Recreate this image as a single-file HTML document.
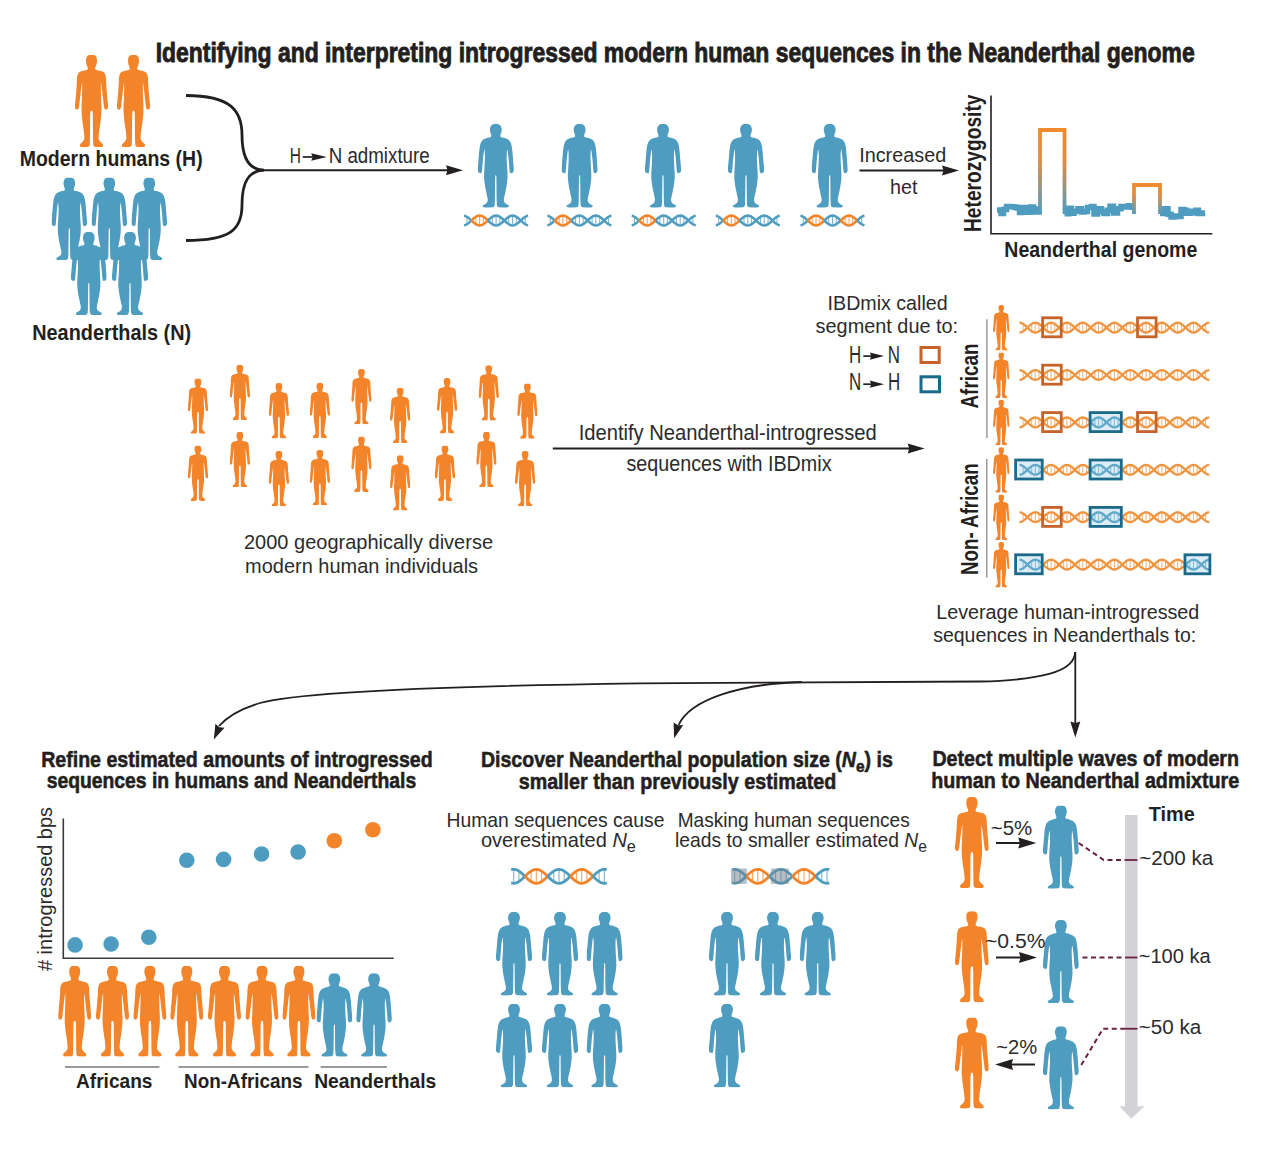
<!DOCTYPE html>
<html><head><meta charset="utf-8"><title>Introgressed modern human sequences in the Neanderthal genome</title>
<style>
html,body{margin:0;padding:0;background:#fff;}
body{width:1280px;height:1168px;overflow:hidden;}
svg{display:block;font-family:"Liberation Sans", sans-serif;}
</style></head><body>
<svg width="1280" height="1168" viewBox="0 0 1280 1168">
<defs><symbol id="hm" viewBox="0 0 100 250" preserveAspectRatio="none"><path d="M50.00,0.00C53.04,0.00 56.65,-0.11 59.13,0.89C61.62,1.89 63.66,3.56 64.90,6.00C66.15,8.44 66.47,12.59 66.59,15.56C66.71,18.52 66.15,21.44 65.62,23.78C65.10,26.11 64.14,27.78 63.46,29.56C62.78,31.33 61.78,32.78 61.54,34.44C61.30,36.11 60.42,38.30 62.02,39.56C63.62,40.81 67.63,41.11 71.15,42.00C74.68,42.89 79.97,43.48 83.17,44.89C86.38,46.30 88.66,47.81 90.38,50.44C92.11,53.07 92.75,55.19 93.51,60.67C94.27,66.15 94.39,75.85 94.95,83.33C95.51,90.81 96.19,98.15 96.88,105.56C97.56,112.96 98.48,122.30 99.04,127.78C99.60,133.26 100.40,135.33 100.24,138.44C100.08,141.56 99.56,144.89 98.08,146.44C96.59,148.00 93.03,148.59 91.35,147.78C89.66,146.96 88.86,144.89 87.98,141.56C87.10,138.22 86.86,133.78 86.06,127.78C85.26,121.78 84.05,112.22 83.17,105.56C82.29,98.89 81.53,92.67 80.77,87.78C80.01,82.89 79.01,75.11 78.61,76.22C78.21,77.33 78.29,87.33 78.37,94.44C78.45,101.56 78.77,110.37 79.09,118.89C79.41,127.41 80.29,137.41 80.29,145.56C80.29,153.70 79.81,160.37 79.09,167.78C78.37,175.19 76.96,183.33 75.96,190.00C74.96,196.67 73.76,201.48 73.08,207.78C72.40,214.07 71.15,223.04 71.88,227.78C72.60,232.52 75.28,233.70 77.40,236.22C79.53,238.74 83.89,240.59 84.62,242.89C85.34,245.19 84.90,248.81 81.73,250.00C78.57,251.19 69.79,250.44 65.62,250.00C61.46,249.56 58.53,249.93 56.73,247.33C54.93,244.74 55.21,243.26 54.81,234.44C54.41,225.63 54.53,207.22 54.33,194.44C54.13,181.67 54.33,164.89 53.61,157.78C52.88,150.67 51.20,151.78 50.00,151.78C48.80,151.78 47.12,150.67 46.39,157.78C45.67,164.89 45.87,181.67 45.67,194.44C45.47,207.22 45.59,225.63 45.19,234.44C44.79,243.26 45.07,244.74 43.27,247.33C41.47,249.93 38.54,249.56 34.38,250.00C30.21,250.44 21.43,251.19 18.27,250.00C15.10,248.81 14.66,245.19 15.38,242.89C16.11,240.59 20.47,238.74 22.60,236.22C24.72,233.70 27.40,232.52 28.12,227.78C28.85,223.04 27.60,214.07 26.92,207.78C26.24,201.48 25.04,196.67 24.04,190.00C23.04,183.33 21.63,175.19 20.91,167.78C20.19,160.37 19.71,153.70 19.71,145.56C19.71,137.41 20.59,127.41 20.91,118.89C21.23,110.37 21.55,101.56 21.63,94.44C21.71,87.33 21.79,77.33 21.39,76.22C20.99,75.11 19.99,82.89 19.23,87.78C18.47,92.67 17.71,98.89 16.83,105.56C15.95,112.22 14.74,121.78 13.94,127.78C13.14,133.78 12.90,138.22 12.02,141.56C11.14,144.89 10.34,146.96 8.65,147.78C6.97,148.59 3.41,148.00 1.92,146.44C0.44,144.89 -0.08,141.56 -0.24,138.44C-0.40,135.33 0.40,133.26 0.96,127.78C1.52,122.30 2.44,112.96 3.12,105.56C3.81,98.15 4.49,90.81 5.05,83.33C5.61,75.85 5.73,66.15 6.49,60.67C7.25,55.19 7.89,53.07 9.62,50.44C11.34,47.81 13.62,46.30 16.83,44.89C20.03,43.48 25.32,42.89 28.85,42.00C32.37,41.11 36.38,40.81 37.98,39.56C39.58,38.30 38.70,36.11 38.46,34.44C38.22,32.78 37.22,31.33 36.54,29.56C35.86,27.78 34.90,26.11 34.38,23.78C33.85,21.44 33.29,18.52 33.41,15.56C33.53,12.59 33.85,8.44 35.10,6.00C36.34,3.56 38.38,1.89 40.87,0.89C43.35,-0.11 46.96,0.00 50.00,0.00Z"/></symbol><symbol id="hn" viewBox="0 0 100 250" preserveAspectRatio="none"><path d="M50.00,0.00C52.56,0.00 55.49,0.05 57.69,0.98C59.90,1.91 61.85,3.54 63.23,5.56C64.62,7.57 65.49,10.57 66.00,13.07C66.51,15.58 66.56,18.03 66.31,20.59C66.05,23.15 65.08,26.14 64.46,28.43C63.85,30.72 62.72,32.52 62.62,34.31C62.51,36.11 62.10,37.96 63.85,39.22C65.59,40.47 69.79,40.63 73.08,41.83C76.36,43.03 80.56,44.17 83.54,46.41C86.51,48.64 89.13,51.69 90.92,55.23C92.72,58.77 93.44,62.96 94.31,67.65C95.18,72.33 95.59,77.45 96.15,83.33C96.72,89.22 97.18,96.41 97.69,102.94C98.21,109.48 98.77,116.99 99.23,122.55C99.69,128.10 100.62,132.57 100.46,136.27C100.31,139.98 99.79,142.92 98.31,144.77C96.82,146.62 93.18,147.93 91.54,147.39C89.90,146.84 89.23,145.64 88.46,141.50C87.69,137.36 87.44,128.98 86.92,122.55C86.41,116.12 85.95,108.93 85.38,102.94C84.82,96.95 84.15,90.96 83.54,86.60C82.92,82.24 82.21,76.25 81.69,76.80C81.18,77.34 80.67,84.42 80.46,89.87C80.26,95.32 80.31,102.94 80.46,109.48C80.62,116.01 81.08,123.09 81.38,129.08C81.69,135.08 82.15,139.43 82.31,145.42C82.46,151.42 82.77,157.95 82.31,165.03C81.85,172.11 80.62,180.83 79.54,187.91C78.46,194.99 77.03,201.09 75.85,207.52C74.67,213.94 72.51,221.68 72.46,226.47C72.41,231.26 73.28,233.33 75.54,236.27C77.79,239.22 84.87,241.72 86.00,244.12C87.13,246.51 85.79,249.56 82.31,250.65C78.82,251.74 69.69,251.31 65.08,250.65C60.46,250.00 56.72,250.11 54.62,246.73C52.51,243.36 52.92,241.29 52.46,230.39C52.00,219.50 52.00,193.46 51.85,181.37C51.69,169.28 51.85,162.42 51.54,157.84C51.23,153.27 50.51,153.92 50.00,153.92C49.49,153.92 48.77,153.27 48.46,157.84C48.15,162.42 48.31,169.28 48.15,181.37C48.00,193.46 48.00,219.50 47.54,230.39C47.08,241.29 47.49,243.36 45.38,246.73C43.28,250.11 39.54,250.00 34.92,250.65C30.31,251.31 21.18,251.74 17.69,250.65C14.21,249.56 12.87,246.51 14.00,244.12C15.13,241.72 22.21,239.22 24.46,236.27C26.72,233.33 27.59,231.26 27.54,226.47C27.49,221.68 25.33,213.94 24.15,207.52C22.97,201.09 21.54,194.99 20.46,187.91C19.38,180.83 18.15,172.11 17.69,165.03C17.23,157.95 17.54,151.42 17.69,145.42C17.85,139.43 18.31,135.08 18.62,129.08C18.92,123.09 19.38,116.01 19.54,109.48C19.69,102.94 19.74,95.32 19.54,89.87C19.33,84.42 18.82,77.34 18.31,76.80C17.79,76.25 17.08,82.24 16.46,86.60C15.85,90.96 15.18,96.95 14.62,102.94C14.05,108.93 13.59,116.12 13.08,122.55C12.56,128.98 12.31,137.36 11.54,141.50C10.77,145.64 10.10,146.84 8.46,147.39C6.82,147.93 3.18,146.62 1.69,144.77C0.21,142.92 -0.31,139.98 -0.46,136.27C-0.62,132.57 0.31,128.10 0.77,122.55C1.23,116.99 1.79,109.48 2.31,102.94C2.82,96.41 3.28,89.22 3.85,83.33C4.41,77.45 4.82,72.33 5.69,67.65C6.56,62.96 7.28,58.77 9.08,55.23C10.87,51.69 13.49,48.64 16.46,46.41C19.44,44.17 23.64,43.03 26.92,41.83C30.21,40.63 34.41,40.47 36.15,39.22C37.90,37.96 37.49,36.11 37.38,34.31C37.28,32.52 36.15,30.72 35.54,28.43C34.92,26.14 33.95,23.15 33.69,20.59C33.44,18.03 33.49,15.58 34.00,13.07C34.51,10.57 35.38,7.57 36.77,5.56C38.15,3.54 40.10,1.91 42.31,0.98C44.51,0.05 47.44,0.00 50.00,0.00Z"/></symbol></defs>
<rect width="1280" height="1168" fill="#fff"/>
<text x="155.70" y="62" font-size="28" font-weight="700" fill="#231f20" textLength="1039.0" lengthAdjust="spacingAndGlyphs" stroke="#231f20" stroke-width="0.9" >Identifying and interpreting introgressed modern human sequences in the Neanderthal genome</text>
<use href="#hm" x="75.00" y="55.00" width="33.00" height="92.00" fill="#f4842a"/>
<use href="#hm" x="117.00" y="55.00" width="33.00" height="92.00" fill="#f4842a"/>
<text x="19.70" y="165.5" font-size="22" font-weight="700" fill="#231f20" textLength="183.0" lengthAdjust="spacingAndGlyphs" >Modern humans (H)</text>
<use href="#hn" x="51.60" y="177.50" width="35.40" height="82.50" fill="#4e9dc0"/>
<use href="#hn" x="91.60" y="177.50" width="35.40" height="82.50" fill="#4e9dc0"/>
<use href="#hn" x="131.50" y="177.50" width="35.50" height="82.50" fill="#4e9dc0"/>
<use href="#hn" x="71.00" y="232.00" width="35.60" height="83.00" fill="#4e9dc0"/>
<use href="#hn" x="112.00" y="232.00" width="36.00" height="83.00" fill="#4e9dc0"/>
<text x="32.20" y="339.5" font-size="22.5" font-weight="700" fill="#231f20" textLength="159.0" lengthAdjust="spacingAndGlyphs" >Neanderthals (N)</text>
<path d="M186,95.5 C230,95.5 242,110 242,135 C242,160 250,170 264,170.2 C250,170.4 242,180 242,205 C242,230 230,240.5 186,240.5" fill="none" stroke="#231f20" stroke-width="2.8"/>
<line x1="262" y1="170.2" x2="450" y2="170.2" stroke="#231f20" stroke-width="2"/>
<polygon points="463.00,170.20 446.00,175.20 447.50,170.20 446.00,165.20" fill="#231f20"/>
<text x="289.80" y="163.3" font-size="21.5" font-weight="400" fill="#2b2b2b" textLength="11.2" lengthAdjust="spacingAndGlyphs" >H</text>
<line x1="302.8" y1="157" x2="315" y2="157" stroke="#231f20" stroke-width="1.7"/>
<polygon points="326.70,157.00 311.20,160.85 312.70,157.00 311.20,153.15" fill="#231f20"/>
<text x="328.70" y="163.3" font-size="21.5" font-weight="400" fill="#2b2b2b" textLength="101.0" lengthAdjust="spacingAndGlyphs" >N admixture</text>
<use href="#hn" x="477.80" y="123.80" width="36.00" height="83.70" fill="#4e9dc0"/>
<g><line x1="466.95" y1="217.70" x2="466.95" y2="223.30" stroke="#4e9dc0" stroke-opacity="0.75" stroke-width="1.05"/><polyline points="464.10,215.68 464.71,215.81 465.32,216.01 465.93,216.26 466.53,216.58 467.14,216.94 467.75,217.36 468.36,217.81 468.97,218.31 469.58,218.83 470.18,219.37 470.79,219.93 471.40,220.50" fill="none" stroke="#4e9dc0" stroke-width="2.5" stroke-linecap="butt"/><polyline points="464.10,225.32 464.71,225.19 465.32,224.99 465.93,224.74 466.53,224.42 467.14,224.06 467.75,223.64 468.36,223.19 468.97,222.69 469.58,222.17 470.18,221.63 470.79,221.07 471.40,220.50" fill="none" stroke="#4e9dc0" stroke-width="2.5" stroke-linecap="butt"/><line x1="475.85" y1="217.70" x2="475.85" y2="223.30" stroke="#f4842a" stroke-opacity="0.75" stroke-width="1.05"/><line x1="479.63" y1="216.47" x2="479.63" y2="224.53" stroke="#f4842a" stroke-opacity="0.75" stroke-width="1.05"/><line x1="483.42" y1="217.70" x2="483.42" y2="223.30" stroke="#f4842a" stroke-opacity="0.75" stroke-width="1.05"/><polyline points="471.40,220.50 472.77,221.77 474.14,222.95 475.52,223.96 476.89,224.74 478.26,225.23 479.63,225.40 481.01,225.23 482.38,224.74 483.75,223.96 485.12,222.95 486.49,221.77 487.87,220.50" fill="none" stroke="#f4842a" stroke-width="2.5" stroke-linecap="butt"/><polyline points="471.40,220.50 472.77,219.23 474.14,218.05 475.52,217.04 476.89,216.26 478.26,215.77 479.63,215.60 481.01,215.77 482.38,216.26 483.75,217.04 485.12,218.05 486.49,219.23 487.87,220.50" fill="none" stroke="#f4842a" stroke-width="2.5" stroke-linecap="butt"/><line x1="492.31" y1="217.70" x2="492.31" y2="223.30" stroke="#4e9dc0" stroke-opacity="0.75" stroke-width="1.05"/><line x1="496.10" y1="216.47" x2="496.10" y2="224.53" stroke="#4e9dc0" stroke-opacity="0.75" stroke-width="1.05"/><line x1="499.89" y1="217.70" x2="499.89" y2="223.30" stroke="#4e9dc0" stroke-opacity="0.75" stroke-width="1.05"/><polyline points="487.87,220.50 489.24,219.23 490.61,218.05 491.98,217.04 493.36,216.26 494.73,215.77 496.10,215.60 497.47,215.77 498.84,216.26 500.22,217.04 501.59,218.05 502.96,219.23 504.33,220.50" fill="none" stroke="#4e9dc0" stroke-width="2.5" stroke-linecap="butt"/><polyline points="487.87,220.50 489.24,221.77 490.61,222.95 491.98,223.96 493.36,224.74 494.73,225.23 496.10,225.40 497.47,225.23 498.84,224.74 500.22,223.96 501.59,222.95 502.96,221.77 504.33,220.50" fill="none" stroke="#4e9dc0" stroke-width="2.5" stroke-linecap="butt"/><line x1="508.78" y1="217.70" x2="508.78" y2="223.30" stroke="#4e9dc0" stroke-opacity="0.75" stroke-width="1.05"/><line x1="512.57" y1="216.47" x2="512.57" y2="224.53" stroke="#4e9dc0" stroke-opacity="0.75" stroke-width="1.05"/><line x1="516.35" y1="217.70" x2="516.35" y2="223.30" stroke="#4e9dc0" stroke-opacity="0.75" stroke-width="1.05"/><polyline points="504.33,220.50 505.71,221.77 507.08,222.95 508.45,223.96 509.82,224.74 511.19,225.23 512.57,225.40 513.94,225.23 515.31,224.74 516.68,223.96 518.06,222.95 519.43,221.77 520.80,220.50" fill="none" stroke="#4e9dc0" stroke-width="2.5" stroke-linecap="butt"/><polyline points="504.33,220.50 505.71,219.23 507.08,218.05 508.45,217.04 509.82,216.26 511.19,215.77 512.57,215.60 513.94,215.77 515.31,216.26 516.68,217.04 518.06,218.05 519.43,219.23 520.80,220.50" fill="none" stroke="#4e9dc0" stroke-width="2.5" stroke-linecap="butt"/><line x1="525.25" y1="217.70" x2="525.25" y2="223.30" stroke="#4e9dc0" stroke-opacity="0.75" stroke-width="1.05"/><polyline points="520.80,220.50 521.41,219.93 522.02,219.37 522.62,218.83 523.23,218.31 523.84,217.81 524.45,217.36 525.06,216.94 525.67,216.58 526.28,216.26 526.88,216.01 527.49,215.81 528.10,215.68" fill="none" stroke="#4e9dc0" stroke-width="2.5" stroke-linecap="butt"/><polyline points="520.80,220.50 521.41,221.07 522.02,221.63 522.62,222.17 523.23,222.69 523.84,223.19 524.45,223.64 525.06,224.06 525.67,224.42 526.28,224.74 526.88,224.99 527.49,225.19 528.10,225.32" fill="none" stroke="#4e9dc0" stroke-width="2.5" stroke-linecap="butt"/></g>
<use href="#hn" x="561.60" y="123.80" width="36.00" height="83.70" fill="#4e9dc0"/>
<g><line x1="550.25" y1="217.70" x2="550.25" y2="223.30" stroke="#4e9dc0" stroke-opacity="0.75" stroke-width="1.05"/><polyline points="547.40,215.68 548.01,215.81 548.62,216.01 549.22,216.26 549.83,216.58 550.44,216.94 551.05,217.36 551.66,217.81 552.27,218.31 552.88,218.83 553.48,219.37 554.09,219.93 554.70,220.50" fill="none" stroke="#4e9dc0" stroke-width="2.5" stroke-linecap="butt"/><polyline points="547.40,225.32 548.01,225.19 548.62,224.99 549.22,224.74 549.83,224.42 550.44,224.06 551.05,223.64 551.66,223.19 552.27,222.69 552.88,222.17 553.48,221.63 554.09,221.07 554.70,220.50" fill="none" stroke="#4e9dc0" stroke-width="2.5" stroke-linecap="butt"/><line x1="559.15" y1="217.70" x2="559.15" y2="223.30" stroke="#f4842a" stroke-opacity="0.75" stroke-width="1.05"/><line x1="562.93" y1="216.47" x2="562.93" y2="224.53" stroke="#f4842a" stroke-opacity="0.75" stroke-width="1.05"/><line x1="566.72" y1="217.70" x2="566.72" y2="223.30" stroke="#f4842a" stroke-opacity="0.75" stroke-width="1.05"/><polyline points="554.70,220.50 556.07,221.77 557.44,222.95 558.82,223.96 560.19,224.74 561.56,225.23 562.93,225.40 564.31,225.23 565.68,224.74 567.05,223.96 568.42,222.95 569.79,221.77 571.17,220.50" fill="none" stroke="#f4842a" stroke-width="2.5" stroke-linecap="butt"/><polyline points="554.70,220.50 556.07,219.23 557.44,218.05 558.82,217.04 560.19,216.26 561.56,215.77 562.93,215.60 564.31,215.77 565.68,216.26 567.05,217.04 568.42,218.05 569.79,219.23 571.17,220.50" fill="none" stroke="#f4842a" stroke-width="2.5" stroke-linecap="butt"/><line x1="575.61" y1="217.70" x2="575.61" y2="223.30" stroke="#4e9dc0" stroke-opacity="0.75" stroke-width="1.05"/><line x1="579.40" y1="216.47" x2="579.40" y2="224.53" stroke="#4e9dc0" stroke-opacity="0.75" stroke-width="1.05"/><line x1="583.19" y1="217.70" x2="583.19" y2="223.30" stroke="#4e9dc0" stroke-opacity="0.75" stroke-width="1.05"/><polyline points="571.17,220.50 572.54,219.23 573.91,218.05 575.28,217.04 576.66,216.26 578.03,215.77 579.40,215.60 580.77,215.77 582.14,216.26 583.52,217.04 584.89,218.05 586.26,219.23 587.63,220.50" fill="none" stroke="#4e9dc0" stroke-width="2.5" stroke-linecap="butt"/><polyline points="571.17,220.50 572.54,221.77 573.91,222.95 575.28,223.96 576.66,224.74 578.03,225.23 579.40,225.40 580.77,225.23 582.14,224.74 583.52,223.96 584.89,222.95 586.26,221.77 587.63,220.50" fill="none" stroke="#4e9dc0" stroke-width="2.5" stroke-linecap="butt"/><line x1="592.08" y1="217.70" x2="592.08" y2="223.30" stroke="#4e9dc0" stroke-opacity="0.75" stroke-width="1.05"/><line x1="595.87" y1="216.47" x2="595.87" y2="224.53" stroke="#4e9dc0" stroke-opacity="0.75" stroke-width="1.05"/><line x1="599.65" y1="217.70" x2="599.65" y2="223.30" stroke="#4e9dc0" stroke-opacity="0.75" stroke-width="1.05"/><polyline points="587.63,220.50 589.01,221.77 590.38,222.95 591.75,223.96 593.12,224.74 594.49,225.23 595.87,225.40 597.24,225.23 598.61,224.74 599.98,223.96 601.36,222.95 602.73,221.77 604.10,220.50" fill="none" stroke="#4e9dc0" stroke-width="2.5" stroke-linecap="butt"/><polyline points="587.63,220.50 589.01,219.23 590.38,218.05 591.75,217.04 593.12,216.26 594.49,215.77 595.87,215.60 597.24,215.77 598.61,216.26 599.98,217.04 601.36,218.05 602.73,219.23 604.10,220.50" fill="none" stroke="#4e9dc0" stroke-width="2.5" stroke-linecap="butt"/><line x1="608.55" y1="217.70" x2="608.55" y2="223.30" stroke="#4e9dc0" stroke-opacity="0.75" stroke-width="1.05"/><polyline points="604.10,220.50 604.71,219.93 605.32,219.37 605.92,218.83 606.53,218.31 607.14,217.81 607.75,217.36 608.36,216.94 608.97,216.58 609.58,216.26 610.18,216.01 610.79,215.81 611.40,215.68" fill="none" stroke="#4e9dc0" stroke-width="2.5" stroke-linecap="butt"/><polyline points="604.10,220.50 604.71,221.07 605.32,221.63 605.92,222.17 606.53,222.69 607.14,223.19 607.75,223.64 608.36,224.06 608.97,224.42 609.58,224.74 610.18,224.99 610.79,225.19 611.40,225.32" fill="none" stroke="#4e9dc0" stroke-width="2.5" stroke-linecap="butt"/></g>
<use href="#hn" x="645.00" y="123.80" width="36.00" height="83.70" fill="#4e9dc0"/>
<g><line x1="634.55" y1="217.70" x2="634.55" y2="223.30" stroke="#4e9dc0" stroke-opacity="0.75" stroke-width="1.05"/><polyline points="631.70,215.68 632.31,215.81 632.92,216.01 633.53,216.26 634.13,216.58 634.74,216.94 635.35,217.36 635.96,217.81 636.57,218.31 637.17,218.83 637.78,219.37 638.39,219.93 639.00,220.50" fill="none" stroke="#4e9dc0" stroke-width="2.5" stroke-linecap="butt"/><polyline points="631.70,225.32 632.31,225.19 632.92,224.99 633.53,224.74 634.13,224.42 634.74,224.06 635.35,223.64 635.96,223.19 636.57,222.69 637.17,222.17 637.78,221.63 638.39,221.07 639.00,220.50" fill="none" stroke="#4e9dc0" stroke-width="2.5" stroke-linecap="butt"/><line x1="643.45" y1="217.70" x2="643.45" y2="223.30" stroke="#f4842a" stroke-opacity="0.75" stroke-width="1.05"/><line x1="647.23" y1="216.47" x2="647.23" y2="224.53" stroke="#f4842a" stroke-opacity="0.75" stroke-width="1.05"/><line x1="651.02" y1="217.70" x2="651.02" y2="223.30" stroke="#f4842a" stroke-opacity="0.75" stroke-width="1.05"/><polyline points="639.00,220.50 640.37,221.77 641.74,222.95 643.12,223.96 644.49,224.74 645.86,225.23 647.23,225.40 648.61,225.23 649.98,224.74 651.35,223.96 652.72,222.95 654.09,221.77 655.47,220.50" fill="none" stroke="#f4842a" stroke-width="2.5" stroke-linecap="butt"/><polyline points="639.00,220.50 640.37,219.23 641.74,218.05 643.12,217.04 644.49,216.26 645.86,215.77 647.23,215.60 648.61,215.77 649.98,216.26 651.35,217.04 652.72,218.05 654.09,219.23 655.47,220.50" fill="none" stroke="#f4842a" stroke-width="2.5" stroke-linecap="butt"/><line x1="659.91" y1="217.70" x2="659.91" y2="223.30" stroke="#4e9dc0" stroke-opacity="0.75" stroke-width="1.05"/><line x1="663.70" y1="216.47" x2="663.70" y2="224.53" stroke="#4e9dc0" stroke-opacity="0.75" stroke-width="1.05"/><line x1="667.49" y1="217.70" x2="667.49" y2="223.30" stroke="#4e9dc0" stroke-opacity="0.75" stroke-width="1.05"/><polyline points="655.47,220.50 656.84,219.23 658.21,218.05 659.58,217.04 660.96,216.26 662.33,215.77 663.70,215.60 665.07,215.77 666.44,216.26 667.82,217.04 669.19,218.05 670.56,219.23 671.93,220.50" fill="none" stroke="#4e9dc0" stroke-width="2.5" stroke-linecap="butt"/><polyline points="655.47,220.50 656.84,221.77 658.21,222.95 659.58,223.96 660.96,224.74 662.33,225.23 663.70,225.40 665.07,225.23 666.44,224.74 667.82,223.96 669.19,222.95 670.56,221.77 671.93,220.50" fill="none" stroke="#4e9dc0" stroke-width="2.5" stroke-linecap="butt"/><line x1="676.38" y1="217.70" x2="676.38" y2="223.30" stroke="#4e9dc0" stroke-opacity="0.75" stroke-width="1.05"/><line x1="680.17" y1="216.47" x2="680.17" y2="224.53" stroke="#4e9dc0" stroke-opacity="0.75" stroke-width="1.05"/><line x1="683.95" y1="217.70" x2="683.95" y2="223.30" stroke="#4e9dc0" stroke-opacity="0.75" stroke-width="1.05"/><polyline points="671.93,220.50 673.31,221.77 674.68,222.95 676.05,223.96 677.42,224.74 678.79,225.23 680.17,225.40 681.54,225.23 682.91,224.74 684.28,223.96 685.66,222.95 687.03,221.77 688.40,220.50" fill="none" stroke="#4e9dc0" stroke-width="2.5" stroke-linecap="butt"/><polyline points="671.93,220.50 673.31,219.23 674.68,218.05 676.05,217.04 677.42,216.26 678.79,215.77 680.17,215.60 681.54,215.77 682.91,216.26 684.28,217.04 685.66,218.05 687.03,219.23 688.40,220.50" fill="none" stroke="#4e9dc0" stroke-width="2.5" stroke-linecap="butt"/><line x1="692.85" y1="217.70" x2="692.85" y2="223.30" stroke="#4e9dc0" stroke-opacity="0.75" stroke-width="1.05"/><polyline points="688.40,220.50 689.01,219.93 689.62,219.37 690.23,218.83 690.83,218.31 691.44,217.81 692.05,217.36 692.66,216.94 693.27,216.58 693.88,216.26 694.48,216.01 695.09,215.81 695.70,215.68" fill="none" stroke="#4e9dc0" stroke-width="2.5" stroke-linecap="butt"/><polyline points="688.40,220.50 689.01,221.07 689.62,221.63 690.23,222.17 690.83,222.69 691.44,223.19 692.05,223.64 692.66,224.06 693.27,224.42 693.88,224.74 694.48,224.99 695.09,225.19 695.70,225.32" fill="none" stroke="#4e9dc0" stroke-width="2.5" stroke-linecap="butt"/></g>
<use href="#hn" x="728.00" y="123.80" width="36.00" height="83.70" fill="#4e9dc0"/>
<g><line x1="718.65" y1="217.70" x2="718.65" y2="223.30" stroke="#4e9dc0" stroke-opacity="0.75" stroke-width="1.05"/><polyline points="715.80,215.68 716.41,215.81 717.02,216.01 717.62,216.26 718.23,216.58 718.84,216.94 719.45,217.36 720.06,217.81 720.67,218.31 721.27,218.83 721.88,219.37 722.49,219.93 723.10,220.50" fill="none" stroke="#4e9dc0" stroke-width="2.5" stroke-linecap="butt"/><polyline points="715.80,225.32 716.41,225.19 717.02,224.99 717.62,224.74 718.23,224.42 718.84,224.06 719.45,223.64 720.06,223.19 720.67,222.69 721.27,222.17 721.88,221.63 722.49,221.07 723.10,220.50" fill="none" stroke="#4e9dc0" stroke-width="2.5" stroke-linecap="butt"/><line x1="727.55" y1="217.70" x2="727.55" y2="223.30" stroke="#f4842a" stroke-opacity="0.75" stroke-width="1.05"/><line x1="731.33" y1="216.47" x2="731.33" y2="224.53" stroke="#f4842a" stroke-opacity="0.75" stroke-width="1.05"/><line x1="735.12" y1="217.70" x2="735.12" y2="223.30" stroke="#f4842a" stroke-opacity="0.75" stroke-width="1.05"/><polyline points="723.10,220.50 724.47,221.77 725.84,222.95 727.22,223.96 728.59,224.74 729.96,225.23 731.33,225.40 732.71,225.23 734.08,224.74 735.45,223.96 736.82,222.95 738.19,221.77 739.57,220.50" fill="none" stroke="#f4842a" stroke-width="2.5" stroke-linecap="butt"/><polyline points="723.10,220.50 724.47,219.23 725.84,218.05 727.22,217.04 728.59,216.26 729.96,215.77 731.33,215.60 732.71,215.77 734.08,216.26 735.45,217.04 736.82,218.05 738.19,219.23 739.57,220.50" fill="none" stroke="#f4842a" stroke-width="2.5" stroke-linecap="butt"/><line x1="744.01" y1="217.70" x2="744.01" y2="223.30" stroke="#4e9dc0" stroke-opacity="0.75" stroke-width="1.05"/><line x1="747.80" y1="216.47" x2="747.80" y2="224.53" stroke="#4e9dc0" stroke-opacity="0.75" stroke-width="1.05"/><line x1="751.59" y1="217.70" x2="751.59" y2="223.30" stroke="#4e9dc0" stroke-opacity="0.75" stroke-width="1.05"/><polyline points="739.57,220.50 740.94,219.23 742.31,218.05 743.68,217.04 745.06,216.26 746.43,215.77 747.80,215.60 749.17,215.77 750.54,216.26 751.92,217.04 753.29,218.05 754.66,219.23 756.03,220.50" fill="none" stroke="#4e9dc0" stroke-width="2.5" stroke-linecap="butt"/><polyline points="739.57,220.50 740.94,221.77 742.31,222.95 743.68,223.96 745.06,224.74 746.43,225.23 747.80,225.40 749.17,225.23 750.54,224.74 751.92,223.96 753.29,222.95 754.66,221.77 756.03,220.50" fill="none" stroke="#4e9dc0" stroke-width="2.5" stroke-linecap="butt"/><line x1="760.48" y1="217.70" x2="760.48" y2="223.30" stroke="#4e9dc0" stroke-opacity="0.75" stroke-width="1.05"/><line x1="764.27" y1="216.47" x2="764.27" y2="224.53" stroke="#4e9dc0" stroke-opacity="0.75" stroke-width="1.05"/><line x1="768.05" y1="217.70" x2="768.05" y2="223.30" stroke="#4e9dc0" stroke-opacity="0.75" stroke-width="1.05"/><polyline points="756.03,220.50 757.41,221.77 758.78,222.95 760.15,223.96 761.52,224.74 762.89,225.23 764.27,225.40 765.64,225.23 767.01,224.74 768.38,223.96 769.76,222.95 771.13,221.77 772.50,220.50" fill="none" stroke="#4e9dc0" stroke-width="2.5" stroke-linecap="butt"/><polyline points="756.03,220.50 757.41,219.23 758.78,218.05 760.15,217.04 761.52,216.26 762.89,215.77 764.27,215.60 765.64,215.77 767.01,216.26 768.38,217.04 769.76,218.05 771.13,219.23 772.50,220.50" fill="none" stroke="#4e9dc0" stroke-width="2.5" stroke-linecap="butt"/><line x1="776.95" y1="217.70" x2="776.95" y2="223.30" stroke="#4e9dc0" stroke-opacity="0.75" stroke-width="1.05"/><polyline points="772.50,220.50 773.11,219.93 773.72,219.37 774.33,218.83 774.93,218.31 775.54,217.81 776.15,217.36 776.76,216.94 777.37,216.58 777.97,216.26 778.58,216.01 779.19,215.81 779.80,215.68" fill="none" stroke="#4e9dc0" stroke-width="2.5" stroke-linecap="butt"/><polyline points="772.50,220.50 773.11,221.07 773.72,221.63 774.33,222.17 774.93,222.69 775.54,223.19 776.15,223.64 776.76,224.06 777.37,224.42 777.97,224.74 778.58,224.99 779.19,225.19 779.80,225.32" fill="none" stroke="#4e9dc0" stroke-width="2.5" stroke-linecap="butt"/></g>
<use href="#hn" x="811.70" y="123.80" width="36.00" height="83.70" fill="#4e9dc0"/>
<g><line x1="803.35" y1="217.70" x2="803.35" y2="223.30" stroke="#4e9dc0" stroke-opacity="0.75" stroke-width="1.05"/><polyline points="800.50,215.68 801.11,215.81 801.72,216.01 802.33,216.26 802.93,216.58 803.54,216.94 804.15,217.36 804.76,217.81 805.37,218.31 805.97,218.83 806.58,219.37 807.19,219.93 807.80,220.50" fill="none" stroke="#4e9dc0" stroke-width="2.5" stroke-linecap="butt"/><polyline points="800.50,225.32 801.11,225.19 801.72,224.99 802.33,224.74 802.93,224.42 803.54,224.06 804.15,223.64 804.76,223.19 805.37,222.69 805.97,222.17 806.58,221.63 807.19,221.07 807.80,220.50" fill="none" stroke="#4e9dc0" stroke-width="2.5" stroke-linecap="butt"/><line x1="812.25" y1="217.70" x2="812.25" y2="223.30" stroke="#f4842a" stroke-opacity="0.75" stroke-width="1.05"/><line x1="816.03" y1="216.47" x2="816.03" y2="224.53" stroke="#f4842a" stroke-opacity="0.75" stroke-width="1.05"/><line x1="819.82" y1="217.70" x2="819.82" y2="223.30" stroke="#f4842a" stroke-opacity="0.75" stroke-width="1.05"/><polyline points="807.80,220.50 809.17,221.77 810.54,222.95 811.92,223.96 813.29,224.74 814.66,225.23 816.03,225.40 817.41,225.23 818.78,224.74 820.15,223.96 821.52,222.95 822.89,221.77 824.27,220.50" fill="none" stroke="#f4842a" stroke-width="2.5" stroke-linecap="butt"/><polyline points="807.80,220.50 809.17,219.23 810.54,218.05 811.92,217.04 813.29,216.26 814.66,215.77 816.03,215.60 817.41,215.77 818.78,216.26 820.15,217.04 821.52,218.05 822.89,219.23 824.27,220.50" fill="none" stroke="#f4842a" stroke-width="2.5" stroke-linecap="butt"/><line x1="828.71" y1="217.70" x2="828.71" y2="223.30" stroke="#4e9dc0" stroke-opacity="0.75" stroke-width="1.05"/><line x1="832.50" y1="216.47" x2="832.50" y2="224.53" stroke="#4e9dc0" stroke-opacity="0.75" stroke-width="1.05"/><line x1="836.29" y1="217.70" x2="836.29" y2="223.30" stroke="#4e9dc0" stroke-opacity="0.75" stroke-width="1.05"/><polyline points="824.27,220.50 825.64,219.23 827.01,218.05 828.38,217.04 829.76,216.26 831.13,215.77 832.50,215.60 833.87,215.77 835.24,216.26 836.62,217.04 837.99,218.05 839.36,219.23 840.73,220.50" fill="none" stroke="#4e9dc0" stroke-width="2.5" stroke-linecap="butt"/><polyline points="824.27,220.50 825.64,221.77 827.01,222.95 828.38,223.96 829.76,224.74 831.13,225.23 832.50,225.40 833.87,225.23 835.24,224.74 836.62,223.96 837.99,222.95 839.36,221.77 840.73,220.50" fill="none" stroke="#4e9dc0" stroke-width="2.5" stroke-linecap="butt"/><line x1="845.18" y1="217.70" x2="845.18" y2="223.30" stroke="#f4842a" stroke-opacity="0.75" stroke-width="1.05"/><line x1="848.97" y1="216.47" x2="848.97" y2="224.53" stroke="#f4842a" stroke-opacity="0.75" stroke-width="1.05"/><line x1="852.75" y1="217.70" x2="852.75" y2="223.30" stroke="#f4842a" stroke-opacity="0.75" stroke-width="1.05"/><polyline points="840.73,220.50 842.11,221.77 843.48,222.95 844.85,223.96 846.22,224.74 847.59,225.23 848.97,225.40 850.34,225.23 851.71,224.74 853.08,223.96 854.46,222.95 855.83,221.77 857.20,220.50" fill="none" stroke="#f4842a" stroke-width="2.5" stroke-linecap="butt"/><polyline points="840.73,220.50 842.11,219.23 843.48,218.05 844.85,217.04 846.22,216.26 847.59,215.77 848.97,215.60 850.34,215.77 851.71,216.26 853.08,217.04 854.46,218.05 855.83,219.23 857.20,220.50" fill="none" stroke="#f4842a" stroke-width="2.5" stroke-linecap="butt"/><line x1="861.65" y1="217.70" x2="861.65" y2="223.30" stroke="#4e9dc0" stroke-opacity="0.75" stroke-width="1.05"/><polyline points="857.20,220.50 857.81,219.93 858.42,219.37 859.03,218.83 859.63,218.31 860.24,217.81 860.85,217.36 861.46,216.94 862.07,216.58 862.67,216.26 863.28,216.01 863.89,215.81 864.50,215.68" fill="none" stroke="#4e9dc0" stroke-width="2.5" stroke-linecap="butt"/><polyline points="857.20,220.50 857.81,221.07 858.42,221.63 859.03,222.17 859.63,222.69 860.24,223.19 860.85,223.64 861.46,224.06 862.07,224.42 862.67,224.74 863.28,224.99 863.89,225.19 864.50,225.32" fill="none" stroke="#4e9dc0" stroke-width="2.5" stroke-linecap="butt"/></g>
<text x="859.20" y="162.4" font-size="20" font-weight="400" fill="#2b2b2b" textLength="87.0" lengthAdjust="spacingAndGlyphs" >Increased</text>
<text x="890.00" y="193.7" font-size="20" font-weight="400" fill="#2b2b2b" textLength="27.5" lengthAdjust="spacingAndGlyphs" >het</text>
<line x1="859.5" y1="170.5" x2="945" y2="170.5" stroke="#231f20" stroke-width="2"/>
<polygon points="959.00,170.50 942.00,175.50 943.50,170.50 942.00,165.50" fill="#231f20"/>
<path d="M991,95.5 L991,233.7 L1212.3,233.7" fill="none" stroke="#231f20" stroke-width="1.6"/>
<text x="0.00" y="0" font-size="24" font-weight="700" fill="#231f20" textLength="137.5" lengthAdjust="spacingAndGlyphs" transform="translate(981,232) rotate(-90)" >Heterozygosity</text>
<text x="1004.30" y="257" font-size="22" font-weight="700" fill="#231f20" textLength="193.0" lengthAdjust="spacingAndGlyphs" >Neanderthal genome</text>
<defs><linearGradient id="pk" x1="0" y1="0" x2="0" y2="1"><stop offset="0" stop-color="#f08a2e"/><stop offset="0.35" stop-color="#e48c42"/><stop offset="1" stop-color="#4e9dc0"/></linearGradient></defs>
<polyline points="997.0,209.9 1001.0,209.9 1001.0,213.5 1003.5,213.5 1003.5,209.6 1006.5,209.6 1006.5,206.6 1010.5,206.6 1010.5,206.7 1014.5,206.7 1014.5,207.3 1017.0,207.3 1017.0,208.1 1019.5,208.1 1019.5,212.6 1022.0,212.6 1022.0,207.5 1025.0,207.5 1025.0,209.4 1027.5,209.4 1027.5,212.3 1030.5,212.3 1030.5,207.1 1033.5,207.1 1033.5,209.1 1036.0,209.1 1036.0,212.1 1039.0,212.1 1039.0,211.2 1040.0,211.2" fill="none" stroke="#4e9dc0" stroke-width="5.5"/>
<polyline points="1064.5,213.8 1068.5,213.8 1068.5,208.3 1071.5,208.3 1071.5,213.3 1074.0,213.3 1074.0,211.3 1078.0,211.3 1078.0,208.7 1081.5,208.7 1081.5,212.0 1084.0,212.0 1084.0,211.4 1087.5,211.4 1087.5,207.4 1091.5,207.4 1091.5,206.5 1094.0,206.5 1094.0,214.1 1097.5,214.1 1097.5,208.7 1101.5,208.7 1101.5,211.8 1104.0,211.8 1104.0,213.6 1107.5,213.6 1107.5,210.2 1110.0,210.2 1110.0,206.2 1113.5,206.2 1113.5,213.1 1117.5,213.1 1117.5,208.7 1121.0,208.7 1121.0,206.4 1124.5,206.4 1124.5,207.1 1128.5,207.1 1128.5,205.7 1132.0,205.7 1132.0,207.2 1134.0,207.2" fill="none" stroke="#4e9dc0" stroke-width="5.5"/>
<polyline points="1160.0,213.4 1164.0,213.4 1164.0,208.7 1168.0,208.7 1168.0,214.3 1171.0,214.3 1171.0,216.9 1174.5,216.9 1174.5,215.9 1178.0,215.9 1178.0,216.4 1181.0,216.4 1181.0,209.6 1184.0,209.6 1184.0,210.2 1186.5,210.2 1186.5,213.3 1189.5,213.3 1189.5,211.3 1192.5,211.3 1192.5,213.0 1196.0,213.0 1196.0,210.2 1198.5,210.2 1198.5,213.4 1202.5,213.4 1202.5,212.9 1205.0,212.9" fill="none" stroke="#4e9dc0" stroke-width="5.5"/>
<path d="M1040,214 L1040,130 L1064.5,130 L1064.5,214" fill="none" stroke="url(#pk)" stroke-width="3.8"/>
<path d="M1134,214 L1134,185 L1160,185 L1160,214" fill="none" stroke="url(#pk)" stroke-width="3.8"/>
<use href="#hm" x="187.80" y="378.40" width="20.30" height="55.30" fill="#f4842a"/>
<use href="#hm" x="229.70" y="364.70" width="20.30" height="55.30" fill="#f4842a"/>
<use href="#hm" x="268.75" y="383.10" width="20.30" height="55.30" fill="#f4842a"/>
<use href="#hm" x="309.70" y="382.80" width="20.30" height="55.30" fill="#f4842a"/>
<use href="#hm" x="351.25" y="369.00" width="20.30" height="55.30" fill="#f4842a"/>
<use href="#hm" x="390.00" y="387.80" width="20.30" height="55.30" fill="#f4842a"/>
<use href="#hm" x="436.90" y="378.10" width="20.30" height="55.30" fill="#f4842a"/>
<use href="#hm" x="478.60" y="365.20" width="20.30" height="55.30" fill="#f4842a"/>
<use href="#hm" x="517.20" y="383.40" width="20.30" height="55.30" fill="#f4842a"/>
<use href="#hm" x="187.80" y="445.60" width="20.30" height="55.30" fill="#f4842a"/>
<use href="#hm" x="229.70" y="431.90" width="20.30" height="55.30" fill="#f4842a"/>
<use href="#hm" x="268.75" y="451.00" width="20.30" height="55.30" fill="#f4842a"/>
<use href="#hm" x="309.70" y="450.00" width="20.30" height="55.30" fill="#f4842a"/>
<use href="#hm" x="351.25" y="436.60" width="20.30" height="55.30" fill="#f4842a"/>
<use href="#hm" x="390.00" y="455.30" width="20.30" height="55.30" fill="#f4842a"/>
<use href="#hm" x="434.80" y="445.60" width="20.30" height="55.30" fill="#f4842a"/>
<use href="#hm" x="476.25" y="431.90" width="20.30" height="55.30" fill="#f4842a"/>
<use href="#hm" x="515.00" y="451.00" width="20.30" height="55.30" fill="#f4842a"/>
<text x="244.00" y="549.1" font-size="20.5" font-weight="400" fill="#2b2b2b" textLength="249.0" lengthAdjust="spacingAndGlyphs" >2000 geographically diverse</text>
<text x="245.10" y="572.5" font-size="20.5" font-weight="400" fill="#2b2b2b" textLength="233.0" lengthAdjust="spacingAndGlyphs" >modern human individuals</text>
<text x="578.70" y="439.7" font-size="21.5" font-weight="400" fill="#2b2b2b" textLength="298.0" lengthAdjust="spacingAndGlyphs" >Identify Neanderthal-introgressed</text>
<text x="626.50" y="471" font-size="21.5" font-weight="400" fill="#2b2b2b" textLength="205.0" lengthAdjust="spacingAndGlyphs" >sequences with IBDmix</text>
<line x1="552.8" y1="448.4" x2="910" y2="448.4" stroke="#231f20" stroke-width="2"/>
<polygon points="924.70,448.40 907.70,453.40 909.20,448.40 907.70,443.40" fill="#231f20"/>
<text x="827.60" y="309.7" font-size="20.5" font-weight="400" fill="#2b2b2b" textLength="120.0" lengthAdjust="spacingAndGlyphs" >IBDmix called</text>
<text x="815.60" y="332.7" font-size="20.5" font-weight="400" fill="#2b2b2b" textLength="142.5" lengthAdjust="spacingAndGlyphs" >segment due to:</text>
<text x="849.00" y="362.6" font-size="23.5" font-weight="400" fill="#2b2b2b" textLength="12.2" lengthAdjust="spacingAndGlyphs" >H</text>
<line x1="863.3" y1="356.1" x2="872" y2="356.1" stroke="#231f20" stroke-width="1.7"/>
<polygon points="884.10,356.10 869.80,359.75 871.30,356.10 869.80,352.45" fill="#231f20"/>
<text x="887.80" y="362.6" font-size="23.5" font-weight="400" fill="#2b2b2b" textLength="12.2" lengthAdjust="spacingAndGlyphs" >N</text>
<text x="849.00" y="389.6" font-size="23.5" font-weight="400" fill="#2b2b2b" textLength="12.2" lengthAdjust="spacingAndGlyphs" >N</text>
<line x1="863.3" y1="384.2" x2="872" y2="384.2" stroke="#231f20" stroke-width="1.7"/>
<polygon points="884.10,384.20 869.80,387.85 871.30,384.20 869.80,380.55" fill="#231f20"/>
<text x="888.00" y="389.6" font-size="23.5" font-weight="400" fill="#2b2b2b" textLength="12.2" lengthAdjust="spacingAndGlyphs" >H</text>
<rect x="921" y="347.5" width="18.2" height="15" fill="#fff" stroke="#c6622a" stroke-width="3"/>
<rect x="921" y="376.8" width="18.5" height="15" fill="#fff" stroke="#1b6a8a" stroke-width="3"/>
<line x1="986.9" y1="319.3" x2="986.9" y2="438" stroke="#8a8a8a" stroke-width="1.3"/>
<line x1="986.8" y1="459" x2="986.8" y2="577.6" stroke="#8a8a8a" stroke-width="1.3"/>
<text x="0.00" y="0" font-size="23.5" font-weight="700" fill="#231f20" textLength="65" lengthAdjust="spacingAndGlyphs" transform="translate(977.5,408.5) rotate(-90)" >African</text>
<text x="0.00" y="0" font-size="23.5" font-weight="700" fill="#231f20" textLength="111.6" lengthAdjust="spacingAndGlyphs" transform="translate(978,575) rotate(-90)" >Non- African</text>
<use href="#hm" x="993.00" y="305.00" width="16.50" height="45.50" fill="#f4842a"/>
<g><line x1="1023.14" y1="324.73" x2="1023.14" y2="330.47" stroke="#f1943f" stroke-opacity="0.75" stroke-width="0.97"/><polyline points="1019.50,322.70 1020.16,322.74 1020.82,322.87 1021.48,323.07 1022.14,323.36 1022.80,323.71 1023.45,324.14 1024.11,324.62 1024.77,325.15 1025.43,325.72 1026.09,326.33 1026.75,326.96 1027.41,327.60" fill="none" stroke="#f1943f" stroke-width="2.3" stroke-linecap="butt"/><polyline points="1019.50,332.50 1020.16,332.46 1020.82,332.33 1021.48,332.13 1022.14,331.84 1022.80,331.49 1023.45,331.06 1024.11,330.58 1024.77,330.05 1025.43,329.48 1026.09,328.87 1026.75,328.24 1027.41,327.60" fill="none" stroke="#f1943f" stroke-width="2.3" stroke-linecap="butt"/><line x1="1031.68" y1="324.73" x2="1031.68" y2="330.47" stroke="#f1943f" stroke-opacity="0.75" stroke-width="0.97"/><line x1="1035.32" y1="323.50" x2="1035.32" y2="331.70" stroke="#f1943f" stroke-opacity="0.75" stroke-width="0.97"/><line x1="1038.95" y1="324.73" x2="1038.95" y2="330.47" stroke="#f1943f" stroke-opacity="0.75" stroke-width="0.97"/><polyline points="1027.41,327.60 1028.73,328.87 1030.04,330.05 1031.36,331.06 1032.68,331.84 1034.00,332.33 1035.32,332.50 1036.63,332.33 1037.95,331.84 1039.27,331.06 1040.59,330.05 1041.91,328.87 1043.22,327.60" fill="none" stroke="#f1943f" stroke-width="2.3" stroke-linecap="butt"/><polyline points="1027.41,327.60 1028.73,326.33 1030.04,325.15 1031.36,324.14 1032.68,323.36 1034.00,322.87 1035.32,322.70 1036.63,322.87 1037.95,323.36 1039.27,324.14 1040.59,325.15 1041.91,326.33 1043.22,327.60" fill="none" stroke="#f1943f" stroke-width="2.3" stroke-linecap="butt"/><line x1="1047.50" y1="324.73" x2="1047.50" y2="330.47" stroke="#f1943f" stroke-opacity="0.75" stroke-width="0.97"/><line x1="1051.13" y1="323.50" x2="1051.13" y2="331.70" stroke="#f1943f" stroke-opacity="0.75" stroke-width="0.97"/><line x1="1054.77" y1="324.73" x2="1054.77" y2="330.47" stroke="#f1943f" stroke-opacity="0.75" stroke-width="0.97"/><polyline points="1043.22,327.60 1044.54,326.33 1045.86,325.15 1047.18,324.14 1048.50,323.36 1049.82,322.87 1051.13,322.70 1052.45,322.87 1053.77,323.36 1055.09,324.14 1056.41,325.15 1057.72,326.33 1059.04,327.60" fill="none" stroke="#f1943f" stroke-width="2.3" stroke-linecap="butt"/><polyline points="1043.22,327.60 1044.54,328.87 1045.86,330.05 1047.18,331.06 1048.50,331.84 1049.82,332.33 1051.13,332.50 1052.45,332.33 1053.77,331.84 1055.09,331.06 1056.41,330.05 1057.72,328.87 1059.04,327.60" fill="none" stroke="#f1943f" stroke-width="2.3" stroke-linecap="butt"/><line x1="1063.31" y1="324.73" x2="1063.31" y2="330.47" stroke="#f1943f" stroke-opacity="0.75" stroke-width="0.97"/><line x1="1066.95" y1="323.50" x2="1066.95" y2="331.70" stroke="#f1943f" stroke-opacity="0.75" stroke-width="0.97"/><line x1="1070.59" y1="324.73" x2="1070.59" y2="330.47" stroke="#f1943f" stroke-opacity="0.75" stroke-width="0.97"/><polyline points="1059.04,327.60 1060.36,328.87 1061.68,330.05 1063.00,331.06 1064.31,331.84 1065.63,332.33 1066.95,332.50 1068.27,332.33 1069.59,331.84 1070.90,331.06 1072.22,330.05 1073.54,328.87 1074.86,327.60" fill="none" stroke="#f1943f" stroke-width="2.3" stroke-linecap="butt"/><polyline points="1059.04,327.60 1060.36,326.33 1061.68,325.15 1063.00,324.14 1064.31,323.36 1065.63,322.87 1066.95,322.70 1068.27,322.87 1069.59,323.36 1070.90,324.14 1072.22,325.15 1073.54,326.33 1074.86,327.60" fill="none" stroke="#f1943f" stroke-width="2.3" stroke-linecap="butt"/><line x1="1079.13" y1="324.73" x2="1079.13" y2="330.47" stroke="#f1943f" stroke-opacity="0.75" stroke-width="0.97"/><line x1="1082.77" y1="323.50" x2="1082.77" y2="331.70" stroke="#f1943f" stroke-opacity="0.75" stroke-width="0.97"/><line x1="1086.40" y1="324.73" x2="1086.40" y2="330.47" stroke="#f1943f" stroke-opacity="0.75" stroke-width="0.97"/><polyline points="1074.86,327.60 1076.18,326.33 1077.49,325.15 1078.81,324.14 1080.13,323.36 1081.45,322.87 1082.77,322.70 1084.08,322.87 1085.40,323.36 1086.72,324.14 1088.04,325.15 1089.36,326.33 1090.67,327.60" fill="none" stroke="#f1943f" stroke-width="2.3" stroke-linecap="butt"/><polyline points="1074.86,327.60 1076.18,328.87 1077.49,330.05 1078.81,331.06 1080.13,331.84 1081.45,332.33 1082.77,332.50 1084.08,332.33 1085.40,331.84 1086.72,331.06 1088.04,330.05 1089.36,328.87 1090.67,327.60" fill="none" stroke="#f1943f" stroke-width="2.3" stroke-linecap="butt"/><line x1="1094.95" y1="324.73" x2="1094.95" y2="330.47" stroke="#f1943f" stroke-opacity="0.75" stroke-width="0.97"/><line x1="1098.58" y1="323.50" x2="1098.58" y2="331.70" stroke="#f1943f" stroke-opacity="0.75" stroke-width="0.97"/><line x1="1102.22" y1="324.73" x2="1102.22" y2="330.47" stroke="#f1943f" stroke-opacity="0.75" stroke-width="0.97"/><polyline points="1090.67,327.60 1091.99,328.87 1093.31,330.05 1094.63,331.06 1095.95,331.84 1097.27,332.33 1098.58,332.50 1099.90,332.33 1101.22,331.84 1102.54,331.06 1103.86,330.05 1105.17,328.87 1106.49,327.60" fill="none" stroke="#f1943f" stroke-width="2.3" stroke-linecap="butt"/><polyline points="1090.67,327.60 1091.99,326.33 1093.31,325.15 1094.63,324.14 1095.95,323.36 1097.27,322.87 1098.58,322.70 1099.90,322.87 1101.22,323.36 1102.54,324.14 1103.86,325.15 1105.17,326.33 1106.49,327.60" fill="none" stroke="#f1943f" stroke-width="2.3" stroke-linecap="butt"/><line x1="1110.76" y1="324.73" x2="1110.76" y2="330.47" stroke="#f1943f" stroke-opacity="0.75" stroke-width="0.97"/><line x1="1114.40" y1="323.50" x2="1114.40" y2="331.70" stroke="#f1943f" stroke-opacity="0.75" stroke-width="0.97"/><line x1="1118.04" y1="324.73" x2="1118.04" y2="330.47" stroke="#f1943f" stroke-opacity="0.75" stroke-width="0.97"/><polyline points="1106.49,327.60 1107.81,326.33 1109.13,325.15 1110.45,324.14 1111.76,323.36 1113.08,322.87 1114.40,322.70 1115.72,322.87 1117.04,323.36 1118.35,324.14 1119.67,325.15 1120.99,326.33 1122.31,327.60" fill="none" stroke="#f1943f" stroke-width="2.3" stroke-linecap="butt"/><polyline points="1106.49,327.60 1107.81,328.87 1109.13,330.05 1110.45,331.06 1111.76,331.84 1113.08,332.33 1114.40,332.50 1115.72,332.33 1117.04,331.84 1118.35,331.06 1119.67,330.05 1120.99,328.87 1122.31,327.60" fill="none" stroke="#f1943f" stroke-width="2.3" stroke-linecap="butt"/><line x1="1126.58" y1="324.73" x2="1126.58" y2="330.47" stroke="#f1943f" stroke-opacity="0.75" stroke-width="0.97"/><line x1="1130.22" y1="323.50" x2="1130.22" y2="331.70" stroke="#f1943f" stroke-opacity="0.75" stroke-width="0.97"/><line x1="1133.85" y1="324.73" x2="1133.85" y2="330.47" stroke="#f1943f" stroke-opacity="0.75" stroke-width="0.97"/><polyline points="1122.31,327.60 1123.63,328.87 1124.94,330.05 1126.26,331.06 1127.58,331.84 1128.90,332.33 1130.22,332.50 1131.53,332.33 1132.85,331.84 1134.17,331.06 1135.49,330.05 1136.81,328.87 1138.12,327.60" fill="none" stroke="#f1943f" stroke-width="2.3" stroke-linecap="butt"/><polyline points="1122.31,327.60 1123.63,326.33 1124.94,325.15 1126.26,324.14 1127.58,323.36 1128.90,322.87 1130.22,322.70 1131.53,322.87 1132.85,323.36 1134.17,324.14 1135.49,325.15 1136.81,326.33 1138.12,327.60" fill="none" stroke="#f1943f" stroke-width="2.3" stroke-linecap="butt"/><line x1="1142.40" y1="324.73" x2="1142.40" y2="330.47" stroke="#f1943f" stroke-opacity="0.75" stroke-width="0.97"/><line x1="1146.03" y1="323.50" x2="1146.03" y2="331.70" stroke="#f1943f" stroke-opacity="0.75" stroke-width="0.97"/><line x1="1149.67" y1="324.73" x2="1149.67" y2="330.47" stroke="#f1943f" stroke-opacity="0.75" stroke-width="0.97"/><polyline points="1138.12,327.60 1139.44,326.33 1140.76,325.15 1142.08,324.14 1143.40,323.36 1144.72,322.87 1146.03,322.70 1147.35,322.87 1148.67,323.36 1149.99,324.14 1151.31,325.15 1152.62,326.33 1153.94,327.60" fill="none" stroke="#f1943f" stroke-width="2.3" stroke-linecap="butt"/><polyline points="1138.12,327.60 1139.44,328.87 1140.76,330.05 1142.08,331.06 1143.40,331.84 1144.72,332.33 1146.03,332.50 1147.35,332.33 1148.67,331.84 1149.99,331.06 1151.31,330.05 1152.62,328.87 1153.94,327.60" fill="none" stroke="#f1943f" stroke-width="2.3" stroke-linecap="butt"/><line x1="1158.21" y1="324.73" x2="1158.21" y2="330.47" stroke="#f1943f" stroke-opacity="0.75" stroke-width="0.97"/><line x1="1161.85" y1="323.50" x2="1161.85" y2="331.70" stroke="#f1943f" stroke-opacity="0.75" stroke-width="0.97"/><line x1="1165.49" y1="324.73" x2="1165.49" y2="330.47" stroke="#f1943f" stroke-opacity="0.75" stroke-width="0.97"/><polyline points="1153.94,327.60 1155.26,328.87 1156.58,330.05 1157.90,331.06 1159.21,331.84 1160.53,332.33 1161.85,332.50 1163.17,332.33 1164.49,331.84 1165.80,331.06 1167.12,330.05 1168.44,328.87 1169.76,327.60" fill="none" stroke="#f1943f" stroke-width="2.3" stroke-linecap="butt"/><polyline points="1153.94,327.60 1155.26,326.33 1156.58,325.15 1157.90,324.14 1159.21,323.36 1160.53,322.87 1161.85,322.70 1163.17,322.87 1164.49,323.36 1165.80,324.14 1167.12,325.15 1168.44,326.33 1169.76,327.60" fill="none" stroke="#f1943f" stroke-width="2.3" stroke-linecap="butt"/><line x1="1174.03" y1="324.73" x2="1174.03" y2="330.47" stroke="#f1943f" stroke-opacity="0.75" stroke-width="0.97"/><line x1="1177.67" y1="323.50" x2="1177.67" y2="331.70" stroke="#f1943f" stroke-opacity="0.75" stroke-width="0.97"/><line x1="1181.30" y1="324.73" x2="1181.30" y2="330.47" stroke="#f1943f" stroke-opacity="0.75" stroke-width="0.97"/><polyline points="1169.76,327.60 1171.08,326.33 1172.39,325.15 1173.71,324.14 1175.03,323.36 1176.35,322.87 1177.67,322.70 1178.98,322.87 1180.30,323.36 1181.62,324.14 1182.94,325.15 1184.26,326.33 1185.57,327.60" fill="none" stroke="#f1943f" stroke-width="2.3" stroke-linecap="butt"/><polyline points="1169.76,327.60 1171.08,328.87 1172.39,330.05 1173.71,331.06 1175.03,331.84 1176.35,332.33 1177.67,332.50 1178.98,332.33 1180.30,331.84 1181.62,331.06 1182.94,330.05 1184.26,328.87 1185.57,327.60" fill="none" stroke="#f1943f" stroke-width="2.3" stroke-linecap="butt"/><line x1="1189.85" y1="324.73" x2="1189.85" y2="330.47" stroke="#f1943f" stroke-opacity="0.75" stroke-width="0.97"/><line x1="1193.48" y1="323.50" x2="1193.48" y2="331.70" stroke="#f1943f" stroke-opacity="0.75" stroke-width="0.97"/><line x1="1197.12" y1="324.73" x2="1197.12" y2="330.47" stroke="#f1943f" stroke-opacity="0.75" stroke-width="0.97"/><polyline points="1185.57,327.60 1186.89,328.87 1188.21,330.05 1189.53,331.06 1190.85,331.84 1192.17,332.33 1193.48,332.50 1194.80,332.33 1196.12,331.84 1197.44,331.06 1198.76,330.05 1200.07,328.87 1201.39,327.60" fill="none" stroke="#f1943f" stroke-width="2.3" stroke-linecap="butt"/><polyline points="1185.57,327.60 1186.89,326.33 1188.21,325.15 1189.53,324.14 1190.85,323.36 1192.17,322.87 1193.48,322.70 1194.80,322.87 1196.12,323.36 1197.44,324.14 1198.76,325.15 1200.07,326.33 1201.39,327.60" fill="none" stroke="#f1943f" stroke-width="2.3" stroke-linecap="butt"/><line x1="1205.66" y1="324.73" x2="1205.66" y2="330.47" stroke="#f1943f" stroke-opacity="0.75" stroke-width="0.97"/><polyline points="1201.39,327.60 1202.05,326.96 1202.71,326.33 1203.37,325.72 1204.03,325.15 1204.69,324.62 1205.35,324.14 1206.00,323.71 1206.66,323.36 1207.32,323.07 1207.98,322.87 1208.64,322.74 1209.30,322.70" fill="none" stroke="#f1943f" stroke-width="2.3" stroke-linecap="butt"/><polyline points="1201.39,327.60 1202.05,328.24 1202.71,328.87 1203.37,329.48 1204.03,330.05 1204.69,330.58 1205.35,331.06 1206.00,331.49 1206.66,331.84 1207.32,332.13 1207.98,332.33 1208.64,332.46 1209.30,332.50" fill="none" stroke="#f1943f" stroke-width="2.3" stroke-linecap="butt"/></g>
<rect x="1042.62" y="317.80" width="18.6" height="19" fill="none" stroke="#c6622a" stroke-width="2.8"/>
<rect x="1137.53" y="317.80" width="18.6" height="19" fill="none" stroke="#c6622a" stroke-width="2.8"/>
<use href="#hm" x="993.00" y="352.40" width="16.50" height="45.50" fill="#f4842a"/>
<g><line x1="1023.14" y1="372.13" x2="1023.14" y2="377.87" stroke="#f1943f" stroke-opacity="0.75" stroke-width="0.97"/><polyline points="1019.50,370.10 1020.16,370.14 1020.82,370.27 1021.48,370.47 1022.14,370.76 1022.80,371.11 1023.45,371.54 1024.11,372.02 1024.77,372.55 1025.43,373.12 1026.09,373.73 1026.75,374.36 1027.41,375.00" fill="none" stroke="#f1943f" stroke-width="2.3" stroke-linecap="butt"/><polyline points="1019.50,379.90 1020.16,379.86 1020.82,379.73 1021.48,379.53 1022.14,379.24 1022.80,378.89 1023.45,378.46 1024.11,377.98 1024.77,377.45 1025.43,376.88 1026.09,376.27 1026.75,375.64 1027.41,375.00" fill="none" stroke="#f1943f" stroke-width="2.3" stroke-linecap="butt"/><line x1="1031.68" y1="372.13" x2="1031.68" y2="377.87" stroke="#f1943f" stroke-opacity="0.75" stroke-width="0.97"/><line x1="1035.32" y1="370.90" x2="1035.32" y2="379.10" stroke="#f1943f" stroke-opacity="0.75" stroke-width="0.97"/><line x1="1038.95" y1="372.13" x2="1038.95" y2="377.87" stroke="#f1943f" stroke-opacity="0.75" stroke-width="0.97"/><polyline points="1027.41,375.00 1028.73,376.27 1030.04,377.45 1031.36,378.46 1032.68,379.24 1034.00,379.73 1035.32,379.90 1036.63,379.73 1037.95,379.24 1039.27,378.46 1040.59,377.45 1041.91,376.27 1043.22,375.00" fill="none" stroke="#f1943f" stroke-width="2.3" stroke-linecap="butt"/><polyline points="1027.41,375.00 1028.73,373.73 1030.04,372.55 1031.36,371.54 1032.68,370.76 1034.00,370.27 1035.32,370.10 1036.63,370.27 1037.95,370.76 1039.27,371.54 1040.59,372.55 1041.91,373.73 1043.22,375.00" fill="none" stroke="#f1943f" stroke-width="2.3" stroke-linecap="butt"/><line x1="1047.50" y1="372.13" x2="1047.50" y2="377.87" stroke="#f1943f" stroke-opacity="0.75" stroke-width="0.97"/><line x1="1051.13" y1="370.90" x2="1051.13" y2="379.10" stroke="#f1943f" stroke-opacity="0.75" stroke-width="0.97"/><line x1="1054.77" y1="372.13" x2="1054.77" y2="377.87" stroke="#f1943f" stroke-opacity="0.75" stroke-width="0.97"/><polyline points="1043.22,375.00 1044.54,373.73 1045.86,372.55 1047.18,371.54 1048.50,370.76 1049.82,370.27 1051.13,370.10 1052.45,370.27 1053.77,370.76 1055.09,371.54 1056.41,372.55 1057.72,373.73 1059.04,375.00" fill="none" stroke="#f1943f" stroke-width="2.3" stroke-linecap="butt"/><polyline points="1043.22,375.00 1044.54,376.27 1045.86,377.45 1047.18,378.46 1048.50,379.24 1049.82,379.73 1051.13,379.90 1052.45,379.73 1053.77,379.24 1055.09,378.46 1056.41,377.45 1057.72,376.27 1059.04,375.00" fill="none" stroke="#f1943f" stroke-width="2.3" stroke-linecap="butt"/><line x1="1063.31" y1="372.13" x2="1063.31" y2="377.87" stroke="#f1943f" stroke-opacity="0.75" stroke-width="0.97"/><line x1="1066.95" y1="370.90" x2="1066.95" y2="379.10" stroke="#f1943f" stroke-opacity="0.75" stroke-width="0.97"/><line x1="1070.59" y1="372.13" x2="1070.59" y2="377.87" stroke="#f1943f" stroke-opacity="0.75" stroke-width="0.97"/><polyline points="1059.04,375.00 1060.36,376.27 1061.68,377.45 1063.00,378.46 1064.31,379.24 1065.63,379.73 1066.95,379.90 1068.27,379.73 1069.59,379.24 1070.90,378.46 1072.22,377.45 1073.54,376.27 1074.86,375.00" fill="none" stroke="#f1943f" stroke-width="2.3" stroke-linecap="butt"/><polyline points="1059.04,375.00 1060.36,373.73 1061.68,372.55 1063.00,371.54 1064.31,370.76 1065.63,370.27 1066.95,370.10 1068.27,370.27 1069.59,370.76 1070.90,371.54 1072.22,372.55 1073.54,373.73 1074.86,375.00" fill="none" stroke="#f1943f" stroke-width="2.3" stroke-linecap="butt"/><line x1="1079.13" y1="372.13" x2="1079.13" y2="377.87" stroke="#f1943f" stroke-opacity="0.75" stroke-width="0.97"/><line x1="1082.77" y1="370.90" x2="1082.77" y2="379.10" stroke="#f1943f" stroke-opacity="0.75" stroke-width="0.97"/><line x1="1086.40" y1="372.13" x2="1086.40" y2="377.87" stroke="#f1943f" stroke-opacity="0.75" stroke-width="0.97"/><polyline points="1074.86,375.00 1076.18,373.73 1077.49,372.55 1078.81,371.54 1080.13,370.76 1081.45,370.27 1082.77,370.10 1084.08,370.27 1085.40,370.76 1086.72,371.54 1088.04,372.55 1089.36,373.73 1090.67,375.00" fill="none" stroke="#f1943f" stroke-width="2.3" stroke-linecap="butt"/><polyline points="1074.86,375.00 1076.18,376.27 1077.49,377.45 1078.81,378.46 1080.13,379.24 1081.45,379.73 1082.77,379.90 1084.08,379.73 1085.40,379.24 1086.72,378.46 1088.04,377.45 1089.36,376.27 1090.67,375.00" fill="none" stroke="#f1943f" stroke-width="2.3" stroke-linecap="butt"/><line x1="1094.95" y1="372.13" x2="1094.95" y2="377.87" stroke="#f1943f" stroke-opacity="0.75" stroke-width="0.97"/><line x1="1098.58" y1="370.90" x2="1098.58" y2="379.10" stroke="#f1943f" stroke-opacity="0.75" stroke-width="0.97"/><line x1="1102.22" y1="372.13" x2="1102.22" y2="377.87" stroke="#f1943f" stroke-opacity="0.75" stroke-width="0.97"/><polyline points="1090.67,375.00 1091.99,376.27 1093.31,377.45 1094.63,378.46 1095.95,379.24 1097.27,379.73 1098.58,379.90 1099.90,379.73 1101.22,379.24 1102.54,378.46 1103.86,377.45 1105.17,376.27 1106.49,375.00" fill="none" stroke="#f1943f" stroke-width="2.3" stroke-linecap="butt"/><polyline points="1090.67,375.00 1091.99,373.73 1093.31,372.55 1094.63,371.54 1095.95,370.76 1097.27,370.27 1098.58,370.10 1099.90,370.27 1101.22,370.76 1102.54,371.54 1103.86,372.55 1105.17,373.73 1106.49,375.00" fill="none" stroke="#f1943f" stroke-width="2.3" stroke-linecap="butt"/><line x1="1110.76" y1="372.13" x2="1110.76" y2="377.87" stroke="#f1943f" stroke-opacity="0.75" stroke-width="0.97"/><line x1="1114.40" y1="370.90" x2="1114.40" y2="379.10" stroke="#f1943f" stroke-opacity="0.75" stroke-width="0.97"/><line x1="1118.04" y1="372.13" x2="1118.04" y2="377.87" stroke="#f1943f" stroke-opacity="0.75" stroke-width="0.97"/><polyline points="1106.49,375.00 1107.81,373.73 1109.13,372.55 1110.45,371.54 1111.76,370.76 1113.08,370.27 1114.40,370.10 1115.72,370.27 1117.04,370.76 1118.35,371.54 1119.67,372.55 1120.99,373.73 1122.31,375.00" fill="none" stroke="#f1943f" stroke-width="2.3" stroke-linecap="butt"/><polyline points="1106.49,375.00 1107.81,376.27 1109.13,377.45 1110.45,378.46 1111.76,379.24 1113.08,379.73 1114.40,379.90 1115.72,379.73 1117.04,379.24 1118.35,378.46 1119.67,377.45 1120.99,376.27 1122.31,375.00" fill="none" stroke="#f1943f" stroke-width="2.3" stroke-linecap="butt"/><line x1="1126.58" y1="372.13" x2="1126.58" y2="377.87" stroke="#f1943f" stroke-opacity="0.75" stroke-width="0.97"/><line x1="1130.22" y1="370.90" x2="1130.22" y2="379.10" stroke="#f1943f" stroke-opacity="0.75" stroke-width="0.97"/><line x1="1133.85" y1="372.13" x2="1133.85" y2="377.87" stroke="#f1943f" stroke-opacity="0.75" stroke-width="0.97"/><polyline points="1122.31,375.00 1123.63,376.27 1124.94,377.45 1126.26,378.46 1127.58,379.24 1128.90,379.73 1130.22,379.90 1131.53,379.73 1132.85,379.24 1134.17,378.46 1135.49,377.45 1136.81,376.27 1138.12,375.00" fill="none" stroke="#f1943f" stroke-width="2.3" stroke-linecap="butt"/><polyline points="1122.31,375.00 1123.63,373.73 1124.94,372.55 1126.26,371.54 1127.58,370.76 1128.90,370.27 1130.22,370.10 1131.53,370.27 1132.85,370.76 1134.17,371.54 1135.49,372.55 1136.81,373.73 1138.12,375.00" fill="none" stroke="#f1943f" stroke-width="2.3" stroke-linecap="butt"/><line x1="1142.40" y1="372.13" x2="1142.40" y2="377.87" stroke="#f1943f" stroke-opacity="0.75" stroke-width="0.97"/><line x1="1146.03" y1="370.90" x2="1146.03" y2="379.10" stroke="#f1943f" stroke-opacity="0.75" stroke-width="0.97"/><line x1="1149.67" y1="372.13" x2="1149.67" y2="377.87" stroke="#f1943f" stroke-opacity="0.75" stroke-width="0.97"/><polyline points="1138.12,375.00 1139.44,373.73 1140.76,372.55 1142.08,371.54 1143.40,370.76 1144.72,370.27 1146.03,370.10 1147.35,370.27 1148.67,370.76 1149.99,371.54 1151.31,372.55 1152.62,373.73 1153.94,375.00" fill="none" stroke="#f1943f" stroke-width="2.3" stroke-linecap="butt"/><polyline points="1138.12,375.00 1139.44,376.27 1140.76,377.45 1142.08,378.46 1143.40,379.24 1144.72,379.73 1146.03,379.90 1147.35,379.73 1148.67,379.24 1149.99,378.46 1151.31,377.45 1152.62,376.27 1153.94,375.00" fill="none" stroke="#f1943f" stroke-width="2.3" stroke-linecap="butt"/><line x1="1158.21" y1="372.13" x2="1158.21" y2="377.87" stroke="#f1943f" stroke-opacity="0.75" stroke-width="0.97"/><line x1="1161.85" y1="370.90" x2="1161.85" y2="379.10" stroke="#f1943f" stroke-opacity="0.75" stroke-width="0.97"/><line x1="1165.49" y1="372.13" x2="1165.49" y2="377.87" stroke="#f1943f" stroke-opacity="0.75" stroke-width="0.97"/><polyline points="1153.94,375.00 1155.26,376.27 1156.58,377.45 1157.90,378.46 1159.21,379.24 1160.53,379.73 1161.85,379.90 1163.17,379.73 1164.49,379.24 1165.80,378.46 1167.12,377.45 1168.44,376.27 1169.76,375.00" fill="none" stroke="#f1943f" stroke-width="2.3" stroke-linecap="butt"/><polyline points="1153.94,375.00 1155.26,373.73 1156.58,372.55 1157.90,371.54 1159.21,370.76 1160.53,370.27 1161.85,370.10 1163.17,370.27 1164.49,370.76 1165.80,371.54 1167.12,372.55 1168.44,373.73 1169.76,375.00" fill="none" stroke="#f1943f" stroke-width="2.3" stroke-linecap="butt"/><line x1="1174.03" y1="372.13" x2="1174.03" y2="377.87" stroke="#f1943f" stroke-opacity="0.75" stroke-width="0.97"/><line x1="1177.67" y1="370.90" x2="1177.67" y2="379.10" stroke="#f1943f" stroke-opacity="0.75" stroke-width="0.97"/><line x1="1181.30" y1="372.13" x2="1181.30" y2="377.87" stroke="#f1943f" stroke-opacity="0.75" stroke-width="0.97"/><polyline points="1169.76,375.00 1171.08,373.73 1172.39,372.55 1173.71,371.54 1175.03,370.76 1176.35,370.27 1177.67,370.10 1178.98,370.27 1180.30,370.76 1181.62,371.54 1182.94,372.55 1184.26,373.73 1185.57,375.00" fill="none" stroke="#f1943f" stroke-width="2.3" stroke-linecap="butt"/><polyline points="1169.76,375.00 1171.08,376.27 1172.39,377.45 1173.71,378.46 1175.03,379.24 1176.35,379.73 1177.67,379.90 1178.98,379.73 1180.30,379.24 1181.62,378.46 1182.94,377.45 1184.26,376.27 1185.57,375.00" fill="none" stroke="#f1943f" stroke-width="2.3" stroke-linecap="butt"/><line x1="1189.85" y1="372.13" x2="1189.85" y2="377.87" stroke="#f1943f" stroke-opacity="0.75" stroke-width="0.97"/><line x1="1193.48" y1="370.90" x2="1193.48" y2="379.10" stroke="#f1943f" stroke-opacity="0.75" stroke-width="0.97"/><line x1="1197.12" y1="372.13" x2="1197.12" y2="377.87" stroke="#f1943f" stroke-opacity="0.75" stroke-width="0.97"/><polyline points="1185.57,375.00 1186.89,376.27 1188.21,377.45 1189.53,378.46 1190.85,379.24 1192.17,379.73 1193.48,379.90 1194.80,379.73 1196.12,379.24 1197.44,378.46 1198.76,377.45 1200.07,376.27 1201.39,375.00" fill="none" stroke="#f1943f" stroke-width="2.3" stroke-linecap="butt"/><polyline points="1185.57,375.00 1186.89,373.73 1188.21,372.55 1189.53,371.54 1190.85,370.76 1192.17,370.27 1193.48,370.10 1194.80,370.27 1196.12,370.76 1197.44,371.54 1198.76,372.55 1200.07,373.73 1201.39,375.00" fill="none" stroke="#f1943f" stroke-width="2.3" stroke-linecap="butt"/><line x1="1205.66" y1="372.13" x2="1205.66" y2="377.87" stroke="#f1943f" stroke-opacity="0.75" stroke-width="0.97"/><polyline points="1201.39,375.00 1202.05,374.36 1202.71,373.73 1203.37,373.12 1204.03,372.55 1204.69,372.02 1205.35,371.54 1206.00,371.11 1206.66,370.76 1207.32,370.47 1207.98,370.27 1208.64,370.14 1209.30,370.10" fill="none" stroke="#f1943f" stroke-width="2.3" stroke-linecap="butt"/><polyline points="1201.39,375.00 1202.05,375.64 1202.71,376.27 1203.37,376.88 1204.03,377.45 1204.69,377.98 1205.35,378.46 1206.00,378.89 1206.66,379.24 1207.32,379.53 1207.98,379.73 1208.64,379.86 1209.30,379.90" fill="none" stroke="#f1943f" stroke-width="2.3" stroke-linecap="butt"/></g>
<rect x="1042.62" y="365.20" width="18.6" height="19" fill="none" stroke="#c6622a" stroke-width="2.8"/>
<use href="#hm" x="993.00" y="399.80" width="16.50" height="45.50" fill="#f4842a"/>
<rect x="1090.08" y="412.60" width="31.23" height="19" fill="#dcedf5"/>
<g><line x1="1023.14" y1="419.53" x2="1023.14" y2="425.27" stroke="#f1943f" stroke-opacity="0.75" stroke-width="0.97"/><polyline points="1019.50,417.50 1020.16,417.54 1020.82,417.67 1021.48,417.87 1022.14,418.16 1022.80,418.51 1023.45,418.94 1024.11,419.42 1024.77,419.95 1025.43,420.52 1026.09,421.13 1026.75,421.76 1027.41,422.40" fill="none" stroke="#f1943f" stroke-width="2.3" stroke-linecap="butt"/><polyline points="1019.50,427.30 1020.16,427.26 1020.82,427.13 1021.48,426.93 1022.14,426.64 1022.80,426.29 1023.45,425.86 1024.11,425.38 1024.77,424.85 1025.43,424.28 1026.09,423.67 1026.75,423.04 1027.41,422.40" fill="none" stroke="#f1943f" stroke-width="2.3" stroke-linecap="butt"/><line x1="1031.68" y1="419.53" x2="1031.68" y2="425.27" stroke="#f1943f" stroke-opacity="0.75" stroke-width="0.97"/><line x1="1035.32" y1="418.31" x2="1035.32" y2="426.50" stroke="#f1943f" stroke-opacity="0.75" stroke-width="0.97"/><line x1="1038.95" y1="419.53" x2="1038.95" y2="425.27" stroke="#f1943f" stroke-opacity="0.75" stroke-width="0.97"/><polyline points="1027.41,422.40 1028.73,423.67 1030.04,424.85 1031.36,425.86 1032.68,426.64 1034.00,427.13 1035.32,427.30 1036.63,427.13 1037.95,426.64 1039.27,425.86 1040.59,424.85 1041.91,423.67 1043.22,422.40" fill="none" stroke="#f1943f" stroke-width="2.3" stroke-linecap="butt"/><polyline points="1027.41,422.40 1028.73,421.13 1030.04,419.95 1031.36,418.94 1032.68,418.16 1034.00,417.67 1035.32,417.50 1036.63,417.67 1037.95,418.16 1039.27,418.94 1040.59,419.95 1041.91,421.13 1043.22,422.40" fill="none" stroke="#f1943f" stroke-width="2.3" stroke-linecap="butt"/><line x1="1047.50" y1="419.53" x2="1047.50" y2="425.27" stroke="#f1943f" stroke-opacity="0.75" stroke-width="0.97"/><line x1="1051.13" y1="418.31" x2="1051.13" y2="426.50" stroke="#f1943f" stroke-opacity="0.75" stroke-width="0.97"/><line x1="1054.77" y1="419.53" x2="1054.77" y2="425.27" stroke="#f1943f" stroke-opacity="0.75" stroke-width="0.97"/><polyline points="1043.22,422.40 1044.54,421.13 1045.86,419.95 1047.18,418.94 1048.50,418.16 1049.82,417.67 1051.13,417.50 1052.45,417.67 1053.77,418.16 1055.09,418.94 1056.41,419.95 1057.72,421.13 1059.04,422.40" fill="none" stroke="#f1943f" stroke-width="2.3" stroke-linecap="butt"/><polyline points="1043.22,422.40 1044.54,423.67 1045.86,424.85 1047.18,425.86 1048.50,426.64 1049.82,427.13 1051.13,427.30 1052.45,427.13 1053.77,426.64 1055.09,425.86 1056.41,424.85 1057.72,423.67 1059.04,422.40" fill="none" stroke="#f1943f" stroke-width="2.3" stroke-linecap="butt"/><line x1="1063.31" y1="419.53" x2="1063.31" y2="425.27" stroke="#f1943f" stroke-opacity="0.75" stroke-width="0.97"/><line x1="1066.95" y1="418.31" x2="1066.95" y2="426.50" stroke="#f1943f" stroke-opacity="0.75" stroke-width="0.97"/><line x1="1070.59" y1="419.53" x2="1070.59" y2="425.27" stroke="#f1943f" stroke-opacity="0.75" stroke-width="0.97"/><polyline points="1059.04,422.40 1060.36,423.67 1061.68,424.85 1063.00,425.86 1064.31,426.64 1065.63,427.13 1066.95,427.30 1068.27,427.13 1069.59,426.64 1070.90,425.86 1072.22,424.85 1073.54,423.67 1074.86,422.40" fill="none" stroke="#f1943f" stroke-width="2.3" stroke-linecap="butt"/><polyline points="1059.04,422.40 1060.36,421.13 1061.68,419.95 1063.00,418.94 1064.31,418.16 1065.63,417.67 1066.95,417.50 1068.27,417.67 1069.59,418.16 1070.90,418.94 1072.22,419.95 1073.54,421.13 1074.86,422.40" fill="none" stroke="#f1943f" stroke-width="2.3" stroke-linecap="butt"/><line x1="1079.13" y1="419.53" x2="1079.13" y2="425.27" stroke="#f1943f" stroke-opacity="0.75" stroke-width="0.97"/><line x1="1082.77" y1="418.31" x2="1082.77" y2="426.50" stroke="#f1943f" stroke-opacity="0.75" stroke-width="0.97"/><line x1="1086.40" y1="419.53" x2="1086.40" y2="425.27" stroke="#f1943f" stroke-opacity="0.75" stroke-width="0.97"/><polyline points="1074.86,422.40 1076.18,421.13 1077.49,419.95 1078.81,418.94 1080.13,418.16 1081.45,417.67 1082.77,417.50 1084.08,417.67 1085.40,418.16 1086.72,418.94 1088.04,419.95 1089.36,421.13 1090.67,422.40" fill="none" stroke="#f1943f" stroke-width="2.3" stroke-linecap="butt"/><polyline points="1074.86,422.40 1076.18,423.67 1077.49,424.85 1078.81,425.86 1080.13,426.64 1081.45,427.13 1082.77,427.30 1084.08,427.13 1085.40,426.64 1086.72,425.86 1088.04,424.85 1089.36,423.67 1090.67,422.40" fill="none" stroke="#f1943f" stroke-width="2.3" stroke-linecap="butt"/><line x1="1094.95" y1="419.53" x2="1094.95" y2="425.27" stroke="#5ea8cc" stroke-opacity="0.75" stroke-width="0.97"/><line x1="1098.58" y1="418.31" x2="1098.58" y2="426.50" stroke="#5ea8cc" stroke-opacity="0.75" stroke-width="0.97"/><line x1="1102.22" y1="419.53" x2="1102.22" y2="425.27" stroke="#5ea8cc" stroke-opacity="0.75" stroke-width="0.97"/><polyline points="1090.67,422.40 1091.99,423.67 1093.31,424.85 1094.63,425.86 1095.95,426.64 1097.27,427.13 1098.58,427.30 1099.90,427.13 1101.22,426.64 1102.54,425.86 1103.86,424.85 1105.17,423.67 1106.49,422.40" fill="none" stroke="#5ea8cc" stroke-width="2.3" stroke-linecap="butt"/><polyline points="1090.67,422.40 1091.99,421.13 1093.31,419.95 1094.63,418.94 1095.95,418.16 1097.27,417.67 1098.58,417.50 1099.90,417.67 1101.22,418.16 1102.54,418.94 1103.86,419.95 1105.17,421.13 1106.49,422.40" fill="none" stroke="#5ea8cc" stroke-width="2.3" stroke-linecap="butt"/><line x1="1110.76" y1="419.53" x2="1110.76" y2="425.27" stroke="#5ea8cc" stroke-opacity="0.75" stroke-width="0.97"/><line x1="1114.40" y1="418.31" x2="1114.40" y2="426.50" stroke="#5ea8cc" stroke-opacity="0.75" stroke-width="0.97"/><line x1="1118.04" y1="419.53" x2="1118.04" y2="425.27" stroke="#5ea8cc" stroke-opacity="0.75" stroke-width="0.97"/><polyline points="1106.49,422.40 1107.81,421.13 1109.13,419.95 1110.45,418.94 1111.76,418.16 1113.08,417.67 1114.40,417.50 1115.72,417.67 1117.04,418.16 1118.35,418.94 1119.67,419.95 1120.99,421.13 1122.31,422.40" fill="none" stroke="#5ea8cc" stroke-width="2.3" stroke-linecap="butt"/><polyline points="1106.49,422.40 1107.81,423.67 1109.13,424.85 1110.45,425.86 1111.76,426.64 1113.08,427.13 1114.40,427.30 1115.72,427.13 1117.04,426.64 1118.35,425.86 1119.67,424.85 1120.99,423.67 1122.31,422.40" fill="none" stroke="#5ea8cc" stroke-width="2.3" stroke-linecap="butt"/><line x1="1126.58" y1="419.53" x2="1126.58" y2="425.27" stroke="#f1943f" stroke-opacity="0.75" stroke-width="0.97"/><line x1="1130.22" y1="418.31" x2="1130.22" y2="426.50" stroke="#f1943f" stroke-opacity="0.75" stroke-width="0.97"/><line x1="1133.85" y1="419.53" x2="1133.85" y2="425.27" stroke="#f1943f" stroke-opacity="0.75" stroke-width="0.97"/><polyline points="1122.31,422.40 1123.63,423.67 1124.94,424.85 1126.26,425.86 1127.58,426.64 1128.90,427.13 1130.22,427.30 1131.53,427.13 1132.85,426.64 1134.17,425.86 1135.49,424.85 1136.81,423.67 1138.12,422.40" fill="none" stroke="#f1943f" stroke-width="2.3" stroke-linecap="butt"/><polyline points="1122.31,422.40 1123.63,421.13 1124.94,419.95 1126.26,418.94 1127.58,418.16 1128.90,417.67 1130.22,417.50 1131.53,417.67 1132.85,418.16 1134.17,418.94 1135.49,419.95 1136.81,421.13 1138.12,422.40" fill="none" stroke="#f1943f" stroke-width="2.3" stroke-linecap="butt"/><line x1="1142.40" y1="419.53" x2="1142.40" y2="425.27" stroke="#f1943f" stroke-opacity="0.75" stroke-width="0.97"/><line x1="1146.03" y1="418.31" x2="1146.03" y2="426.50" stroke="#f1943f" stroke-opacity="0.75" stroke-width="0.97"/><line x1="1149.67" y1="419.53" x2="1149.67" y2="425.27" stroke="#f1943f" stroke-opacity="0.75" stroke-width="0.97"/><polyline points="1138.12,422.40 1139.44,421.13 1140.76,419.95 1142.08,418.94 1143.40,418.16 1144.72,417.67 1146.03,417.50 1147.35,417.67 1148.67,418.16 1149.99,418.94 1151.31,419.95 1152.62,421.13 1153.94,422.40" fill="none" stroke="#f1943f" stroke-width="2.3" stroke-linecap="butt"/><polyline points="1138.12,422.40 1139.44,423.67 1140.76,424.85 1142.08,425.86 1143.40,426.64 1144.72,427.13 1146.03,427.30 1147.35,427.13 1148.67,426.64 1149.99,425.86 1151.31,424.85 1152.62,423.67 1153.94,422.40" fill="none" stroke="#f1943f" stroke-width="2.3" stroke-linecap="butt"/><line x1="1158.21" y1="419.53" x2="1158.21" y2="425.27" stroke="#f1943f" stroke-opacity="0.75" stroke-width="0.97"/><line x1="1161.85" y1="418.31" x2="1161.85" y2="426.50" stroke="#f1943f" stroke-opacity="0.75" stroke-width="0.97"/><line x1="1165.49" y1="419.53" x2="1165.49" y2="425.27" stroke="#f1943f" stroke-opacity="0.75" stroke-width="0.97"/><polyline points="1153.94,422.40 1155.26,423.67 1156.58,424.85 1157.90,425.86 1159.21,426.64 1160.53,427.13 1161.85,427.30 1163.17,427.13 1164.49,426.64 1165.80,425.86 1167.12,424.85 1168.44,423.67 1169.76,422.40" fill="none" stroke="#f1943f" stroke-width="2.3" stroke-linecap="butt"/><polyline points="1153.94,422.40 1155.26,421.13 1156.58,419.95 1157.90,418.94 1159.21,418.16 1160.53,417.67 1161.85,417.50 1163.17,417.67 1164.49,418.16 1165.80,418.94 1167.12,419.95 1168.44,421.13 1169.76,422.40" fill="none" stroke="#f1943f" stroke-width="2.3" stroke-linecap="butt"/><line x1="1174.03" y1="419.53" x2="1174.03" y2="425.27" stroke="#f1943f" stroke-opacity="0.75" stroke-width="0.97"/><line x1="1177.67" y1="418.31" x2="1177.67" y2="426.50" stroke="#f1943f" stroke-opacity="0.75" stroke-width="0.97"/><line x1="1181.30" y1="419.53" x2="1181.30" y2="425.27" stroke="#f1943f" stroke-opacity="0.75" stroke-width="0.97"/><polyline points="1169.76,422.40 1171.08,421.13 1172.39,419.95 1173.71,418.94 1175.03,418.16 1176.35,417.67 1177.67,417.50 1178.98,417.67 1180.30,418.16 1181.62,418.94 1182.94,419.95 1184.26,421.13 1185.57,422.40" fill="none" stroke="#f1943f" stroke-width="2.3" stroke-linecap="butt"/><polyline points="1169.76,422.40 1171.08,423.67 1172.39,424.85 1173.71,425.86 1175.03,426.64 1176.35,427.13 1177.67,427.30 1178.98,427.13 1180.30,426.64 1181.62,425.86 1182.94,424.85 1184.26,423.67 1185.57,422.40" fill="none" stroke="#f1943f" stroke-width="2.3" stroke-linecap="butt"/><line x1="1189.85" y1="419.53" x2="1189.85" y2="425.27" stroke="#f1943f" stroke-opacity="0.75" stroke-width="0.97"/><line x1="1193.48" y1="418.31" x2="1193.48" y2="426.50" stroke="#f1943f" stroke-opacity="0.75" stroke-width="0.97"/><line x1="1197.12" y1="419.53" x2="1197.12" y2="425.27" stroke="#f1943f" stroke-opacity="0.75" stroke-width="0.97"/><polyline points="1185.57,422.40 1186.89,423.67 1188.21,424.85 1189.53,425.86 1190.85,426.64 1192.17,427.13 1193.48,427.30 1194.80,427.13 1196.12,426.64 1197.44,425.86 1198.76,424.85 1200.07,423.67 1201.39,422.40" fill="none" stroke="#f1943f" stroke-width="2.3" stroke-linecap="butt"/><polyline points="1185.57,422.40 1186.89,421.13 1188.21,419.95 1189.53,418.94 1190.85,418.16 1192.17,417.67 1193.48,417.50 1194.80,417.67 1196.12,418.16 1197.44,418.94 1198.76,419.95 1200.07,421.13 1201.39,422.40" fill="none" stroke="#f1943f" stroke-width="2.3" stroke-linecap="butt"/><line x1="1205.66" y1="419.53" x2="1205.66" y2="425.27" stroke="#f1943f" stroke-opacity="0.75" stroke-width="0.97"/><polyline points="1201.39,422.40 1202.05,421.76 1202.71,421.13 1203.37,420.52 1204.03,419.95 1204.69,419.42 1205.35,418.94 1206.00,418.51 1206.66,418.16 1207.32,417.87 1207.98,417.67 1208.64,417.54 1209.30,417.50" fill="none" stroke="#f1943f" stroke-width="2.3" stroke-linecap="butt"/><polyline points="1201.39,422.40 1202.05,423.04 1202.71,423.67 1203.37,424.28 1204.03,424.85 1204.69,425.38 1205.35,425.86 1206.00,426.29 1206.66,426.64 1207.32,426.93 1207.98,427.13 1208.64,427.26 1209.30,427.30" fill="none" stroke="#f1943f" stroke-width="2.3" stroke-linecap="butt"/></g>
<rect x="1042.62" y="412.60" width="18.6" height="19" fill="none" stroke="#c6622a" stroke-width="2.8"/>
<rect x="1090.08" y="412.60" width="31.23" height="19" fill="none" stroke="#1b6a8a" stroke-width="2.8"/>
<rect x="1137.53" y="412.60" width="18.6" height="19" fill="none" stroke="#c6622a" stroke-width="2.8"/>
<use href="#hm" x="993.00" y="447.20" width="16.50" height="45.50" fill="#f4842a"/>
<rect x="1015.60" y="460.00" width="26.62" height="19" fill="#dcedf5"/>
<rect x="1090.08" y="460.00" width="31.23" height="19" fill="#dcedf5"/>
<g><line x1="1023.14" y1="466.93" x2="1023.14" y2="472.67" stroke="#5ea8cc" stroke-opacity="0.75" stroke-width="0.97"/><polyline points="1019.50,464.90 1020.16,464.94 1020.82,465.07 1021.48,465.27 1022.14,465.56 1022.80,465.91 1023.45,466.34 1024.11,466.82 1024.77,467.35 1025.43,467.92 1026.09,468.53 1026.75,469.16 1027.41,469.80" fill="none" stroke="#5ea8cc" stroke-width="2.3" stroke-linecap="butt"/><polyline points="1019.50,474.70 1020.16,474.66 1020.82,474.53 1021.48,474.33 1022.14,474.04 1022.80,473.69 1023.45,473.26 1024.11,472.78 1024.77,472.25 1025.43,471.68 1026.09,471.07 1026.75,470.44 1027.41,469.80" fill="none" stroke="#5ea8cc" stroke-width="2.3" stroke-linecap="butt"/><line x1="1031.68" y1="466.93" x2="1031.68" y2="472.67" stroke="#5ea8cc" stroke-opacity="0.75" stroke-width="0.97"/><line x1="1035.32" y1="465.70" x2="1035.32" y2="473.90" stroke="#5ea8cc" stroke-opacity="0.75" stroke-width="0.97"/><line x1="1038.95" y1="466.93" x2="1038.95" y2="472.67" stroke="#5ea8cc" stroke-opacity="0.75" stroke-width="0.97"/><polyline points="1027.41,469.80 1028.73,471.07 1030.04,472.25 1031.36,473.26 1032.68,474.04 1034.00,474.53 1035.32,474.70 1036.63,474.53 1037.95,474.04 1039.27,473.26 1040.59,472.25 1041.91,471.07 1043.22,469.80" fill="none" stroke="#5ea8cc" stroke-width="2.3" stroke-linecap="butt"/><polyline points="1027.41,469.80 1028.73,468.53 1030.04,467.35 1031.36,466.34 1032.68,465.56 1034.00,465.07 1035.32,464.90 1036.63,465.07 1037.95,465.56 1039.27,466.34 1040.59,467.35 1041.91,468.53 1043.22,469.80" fill="none" stroke="#5ea8cc" stroke-width="2.3" stroke-linecap="butt"/><line x1="1047.50" y1="466.93" x2="1047.50" y2="472.67" stroke="#f1943f" stroke-opacity="0.75" stroke-width="0.97"/><line x1="1051.13" y1="465.70" x2="1051.13" y2="473.90" stroke="#f1943f" stroke-opacity="0.75" stroke-width="0.97"/><line x1="1054.77" y1="466.93" x2="1054.77" y2="472.67" stroke="#f1943f" stroke-opacity="0.75" stroke-width="0.97"/><polyline points="1043.22,469.80 1044.54,468.53 1045.86,467.35 1047.18,466.34 1048.50,465.56 1049.82,465.07 1051.13,464.90 1052.45,465.07 1053.77,465.56 1055.09,466.34 1056.41,467.35 1057.72,468.53 1059.04,469.80" fill="none" stroke="#f1943f" stroke-width="2.3" stroke-linecap="butt"/><polyline points="1043.22,469.80 1044.54,471.07 1045.86,472.25 1047.18,473.26 1048.50,474.04 1049.82,474.53 1051.13,474.70 1052.45,474.53 1053.77,474.04 1055.09,473.26 1056.41,472.25 1057.72,471.07 1059.04,469.80" fill="none" stroke="#f1943f" stroke-width="2.3" stroke-linecap="butt"/><line x1="1063.31" y1="466.93" x2="1063.31" y2="472.67" stroke="#f1943f" stroke-opacity="0.75" stroke-width="0.97"/><line x1="1066.95" y1="465.70" x2="1066.95" y2="473.90" stroke="#f1943f" stroke-opacity="0.75" stroke-width="0.97"/><line x1="1070.59" y1="466.93" x2="1070.59" y2="472.67" stroke="#f1943f" stroke-opacity="0.75" stroke-width="0.97"/><polyline points="1059.04,469.80 1060.36,471.07 1061.68,472.25 1063.00,473.26 1064.31,474.04 1065.63,474.53 1066.95,474.70 1068.27,474.53 1069.59,474.04 1070.90,473.26 1072.22,472.25 1073.54,471.07 1074.86,469.80" fill="none" stroke="#f1943f" stroke-width="2.3" stroke-linecap="butt"/><polyline points="1059.04,469.80 1060.36,468.53 1061.68,467.35 1063.00,466.34 1064.31,465.56 1065.63,465.07 1066.95,464.90 1068.27,465.07 1069.59,465.56 1070.90,466.34 1072.22,467.35 1073.54,468.53 1074.86,469.80" fill="none" stroke="#f1943f" stroke-width="2.3" stroke-linecap="butt"/><line x1="1079.13" y1="466.93" x2="1079.13" y2="472.67" stroke="#f1943f" stroke-opacity="0.75" stroke-width="0.97"/><line x1="1082.77" y1="465.70" x2="1082.77" y2="473.90" stroke="#f1943f" stroke-opacity="0.75" stroke-width="0.97"/><line x1="1086.40" y1="466.93" x2="1086.40" y2="472.67" stroke="#f1943f" stroke-opacity="0.75" stroke-width="0.97"/><polyline points="1074.86,469.80 1076.18,468.53 1077.49,467.35 1078.81,466.34 1080.13,465.56 1081.45,465.07 1082.77,464.90 1084.08,465.07 1085.40,465.56 1086.72,466.34 1088.04,467.35 1089.36,468.53 1090.67,469.80" fill="none" stroke="#f1943f" stroke-width="2.3" stroke-linecap="butt"/><polyline points="1074.86,469.80 1076.18,471.07 1077.49,472.25 1078.81,473.26 1080.13,474.04 1081.45,474.53 1082.77,474.70 1084.08,474.53 1085.40,474.04 1086.72,473.26 1088.04,472.25 1089.36,471.07 1090.67,469.80" fill="none" stroke="#f1943f" stroke-width="2.3" stroke-linecap="butt"/><line x1="1094.95" y1="466.93" x2="1094.95" y2="472.67" stroke="#5ea8cc" stroke-opacity="0.75" stroke-width="0.97"/><line x1="1098.58" y1="465.70" x2="1098.58" y2="473.90" stroke="#5ea8cc" stroke-opacity="0.75" stroke-width="0.97"/><line x1="1102.22" y1="466.93" x2="1102.22" y2="472.67" stroke="#5ea8cc" stroke-opacity="0.75" stroke-width="0.97"/><polyline points="1090.67,469.80 1091.99,471.07 1093.31,472.25 1094.63,473.26 1095.95,474.04 1097.27,474.53 1098.58,474.70 1099.90,474.53 1101.22,474.04 1102.54,473.26 1103.86,472.25 1105.17,471.07 1106.49,469.80" fill="none" stroke="#5ea8cc" stroke-width="2.3" stroke-linecap="butt"/><polyline points="1090.67,469.80 1091.99,468.53 1093.31,467.35 1094.63,466.34 1095.95,465.56 1097.27,465.07 1098.58,464.90 1099.90,465.07 1101.22,465.56 1102.54,466.34 1103.86,467.35 1105.17,468.53 1106.49,469.80" fill="none" stroke="#5ea8cc" stroke-width="2.3" stroke-linecap="butt"/><line x1="1110.76" y1="466.93" x2="1110.76" y2="472.67" stroke="#5ea8cc" stroke-opacity="0.75" stroke-width="0.97"/><line x1="1114.40" y1="465.70" x2="1114.40" y2="473.90" stroke="#5ea8cc" stroke-opacity="0.75" stroke-width="0.97"/><line x1="1118.04" y1="466.93" x2="1118.04" y2="472.67" stroke="#5ea8cc" stroke-opacity="0.75" stroke-width="0.97"/><polyline points="1106.49,469.80 1107.81,468.53 1109.13,467.35 1110.45,466.34 1111.76,465.56 1113.08,465.07 1114.40,464.90 1115.72,465.07 1117.04,465.56 1118.35,466.34 1119.67,467.35 1120.99,468.53 1122.31,469.80" fill="none" stroke="#5ea8cc" stroke-width="2.3" stroke-linecap="butt"/><polyline points="1106.49,469.80 1107.81,471.07 1109.13,472.25 1110.45,473.26 1111.76,474.04 1113.08,474.53 1114.40,474.70 1115.72,474.53 1117.04,474.04 1118.35,473.26 1119.67,472.25 1120.99,471.07 1122.31,469.80" fill="none" stroke="#5ea8cc" stroke-width="2.3" stroke-linecap="butt"/><line x1="1126.58" y1="466.93" x2="1126.58" y2="472.67" stroke="#f1943f" stroke-opacity="0.75" stroke-width="0.97"/><line x1="1130.22" y1="465.70" x2="1130.22" y2="473.90" stroke="#f1943f" stroke-opacity="0.75" stroke-width="0.97"/><line x1="1133.85" y1="466.93" x2="1133.85" y2="472.67" stroke="#f1943f" stroke-opacity="0.75" stroke-width="0.97"/><polyline points="1122.31,469.80 1123.63,471.07 1124.94,472.25 1126.26,473.26 1127.58,474.04 1128.90,474.53 1130.22,474.70 1131.53,474.53 1132.85,474.04 1134.17,473.26 1135.49,472.25 1136.81,471.07 1138.12,469.80" fill="none" stroke="#f1943f" stroke-width="2.3" stroke-linecap="butt"/><polyline points="1122.31,469.80 1123.63,468.53 1124.94,467.35 1126.26,466.34 1127.58,465.56 1128.90,465.07 1130.22,464.90 1131.53,465.07 1132.85,465.56 1134.17,466.34 1135.49,467.35 1136.81,468.53 1138.12,469.80" fill="none" stroke="#f1943f" stroke-width="2.3" stroke-linecap="butt"/><line x1="1142.40" y1="466.93" x2="1142.40" y2="472.67" stroke="#f1943f" stroke-opacity="0.75" stroke-width="0.97"/><line x1="1146.03" y1="465.70" x2="1146.03" y2="473.90" stroke="#f1943f" stroke-opacity="0.75" stroke-width="0.97"/><line x1="1149.67" y1="466.93" x2="1149.67" y2="472.67" stroke="#f1943f" stroke-opacity="0.75" stroke-width="0.97"/><polyline points="1138.12,469.80 1139.44,468.53 1140.76,467.35 1142.08,466.34 1143.40,465.56 1144.72,465.07 1146.03,464.90 1147.35,465.07 1148.67,465.56 1149.99,466.34 1151.31,467.35 1152.62,468.53 1153.94,469.80" fill="none" stroke="#f1943f" stroke-width="2.3" stroke-linecap="butt"/><polyline points="1138.12,469.80 1139.44,471.07 1140.76,472.25 1142.08,473.26 1143.40,474.04 1144.72,474.53 1146.03,474.70 1147.35,474.53 1148.67,474.04 1149.99,473.26 1151.31,472.25 1152.62,471.07 1153.94,469.80" fill="none" stroke="#f1943f" stroke-width="2.3" stroke-linecap="butt"/><line x1="1158.21" y1="466.93" x2="1158.21" y2="472.67" stroke="#f1943f" stroke-opacity="0.75" stroke-width="0.97"/><line x1="1161.85" y1="465.70" x2="1161.85" y2="473.90" stroke="#f1943f" stroke-opacity="0.75" stroke-width="0.97"/><line x1="1165.49" y1="466.93" x2="1165.49" y2="472.67" stroke="#f1943f" stroke-opacity="0.75" stroke-width="0.97"/><polyline points="1153.94,469.80 1155.26,471.07 1156.58,472.25 1157.90,473.26 1159.21,474.04 1160.53,474.53 1161.85,474.70 1163.17,474.53 1164.49,474.04 1165.80,473.26 1167.12,472.25 1168.44,471.07 1169.76,469.80" fill="none" stroke="#f1943f" stroke-width="2.3" stroke-linecap="butt"/><polyline points="1153.94,469.80 1155.26,468.53 1156.58,467.35 1157.90,466.34 1159.21,465.56 1160.53,465.07 1161.85,464.90 1163.17,465.07 1164.49,465.56 1165.80,466.34 1167.12,467.35 1168.44,468.53 1169.76,469.80" fill="none" stroke="#f1943f" stroke-width="2.3" stroke-linecap="butt"/><line x1="1174.03" y1="466.93" x2="1174.03" y2="472.67" stroke="#f1943f" stroke-opacity="0.75" stroke-width="0.97"/><line x1="1177.67" y1="465.70" x2="1177.67" y2="473.90" stroke="#f1943f" stroke-opacity="0.75" stroke-width="0.97"/><line x1="1181.30" y1="466.93" x2="1181.30" y2="472.67" stroke="#f1943f" stroke-opacity="0.75" stroke-width="0.97"/><polyline points="1169.76,469.80 1171.08,468.53 1172.39,467.35 1173.71,466.34 1175.03,465.56 1176.35,465.07 1177.67,464.90 1178.98,465.07 1180.30,465.56 1181.62,466.34 1182.94,467.35 1184.26,468.53 1185.57,469.80" fill="none" stroke="#f1943f" stroke-width="2.3" stroke-linecap="butt"/><polyline points="1169.76,469.80 1171.08,471.07 1172.39,472.25 1173.71,473.26 1175.03,474.04 1176.35,474.53 1177.67,474.70 1178.98,474.53 1180.30,474.04 1181.62,473.26 1182.94,472.25 1184.26,471.07 1185.57,469.80" fill="none" stroke="#f1943f" stroke-width="2.3" stroke-linecap="butt"/><line x1="1189.85" y1="466.93" x2="1189.85" y2="472.67" stroke="#f1943f" stroke-opacity="0.75" stroke-width="0.97"/><line x1="1193.48" y1="465.70" x2="1193.48" y2="473.90" stroke="#f1943f" stroke-opacity="0.75" stroke-width="0.97"/><line x1="1197.12" y1="466.93" x2="1197.12" y2="472.67" stroke="#f1943f" stroke-opacity="0.75" stroke-width="0.97"/><polyline points="1185.57,469.80 1186.89,471.07 1188.21,472.25 1189.53,473.26 1190.85,474.04 1192.17,474.53 1193.48,474.70 1194.80,474.53 1196.12,474.04 1197.44,473.26 1198.76,472.25 1200.07,471.07 1201.39,469.80" fill="none" stroke="#f1943f" stroke-width="2.3" stroke-linecap="butt"/><polyline points="1185.57,469.80 1186.89,468.53 1188.21,467.35 1189.53,466.34 1190.85,465.56 1192.17,465.07 1193.48,464.90 1194.80,465.07 1196.12,465.56 1197.44,466.34 1198.76,467.35 1200.07,468.53 1201.39,469.80" fill="none" stroke="#f1943f" stroke-width="2.3" stroke-linecap="butt"/><line x1="1205.66" y1="466.93" x2="1205.66" y2="472.67" stroke="#f1943f" stroke-opacity="0.75" stroke-width="0.97"/><polyline points="1201.39,469.80 1202.05,469.16 1202.71,468.53 1203.37,467.92 1204.03,467.35 1204.69,466.82 1205.35,466.34 1206.00,465.91 1206.66,465.56 1207.32,465.27 1207.98,465.07 1208.64,464.94 1209.30,464.90" fill="none" stroke="#f1943f" stroke-width="2.3" stroke-linecap="butt"/><polyline points="1201.39,469.80 1202.05,470.44 1202.71,471.07 1203.37,471.68 1204.03,472.25 1204.69,472.78 1205.35,473.26 1206.00,473.69 1206.66,474.04 1207.32,474.33 1207.98,474.53 1208.64,474.66 1209.30,474.70" fill="none" stroke="#f1943f" stroke-width="2.3" stroke-linecap="butt"/></g>
<rect x="1015.60" y="460.00" width="26.62" height="19" fill="none" stroke="#1b6a8a" stroke-width="2.8"/>
<rect x="1090.08" y="460.00" width="31.23" height="19" fill="none" stroke="#1b6a8a" stroke-width="2.8"/>
<use href="#hm" x="993.00" y="494.60" width="16.50" height="45.50" fill="#f4842a"/>
<rect x="1090.08" y="507.40" width="31.23" height="19" fill="#dcedf5"/>
<g><line x1="1023.14" y1="514.33" x2="1023.14" y2="520.07" stroke="#f1943f" stroke-opacity="0.75" stroke-width="0.97"/><polyline points="1019.50,512.30 1020.16,512.34 1020.82,512.47 1021.48,512.67 1022.14,512.96 1022.80,513.31 1023.45,513.74 1024.11,514.22 1024.77,514.75 1025.43,515.32 1026.09,515.93 1026.75,516.56 1027.41,517.20" fill="none" stroke="#f1943f" stroke-width="2.3" stroke-linecap="butt"/><polyline points="1019.50,522.10 1020.16,522.06 1020.82,521.93 1021.48,521.73 1022.14,521.44 1022.80,521.09 1023.45,520.66 1024.11,520.18 1024.77,519.65 1025.43,519.08 1026.09,518.47 1026.75,517.84 1027.41,517.20" fill="none" stroke="#f1943f" stroke-width="2.3" stroke-linecap="butt"/><line x1="1031.68" y1="514.33" x2="1031.68" y2="520.07" stroke="#f1943f" stroke-opacity="0.75" stroke-width="0.97"/><line x1="1035.32" y1="513.11" x2="1035.32" y2="521.30" stroke="#f1943f" stroke-opacity="0.75" stroke-width="0.97"/><line x1="1038.95" y1="514.33" x2="1038.95" y2="520.07" stroke="#f1943f" stroke-opacity="0.75" stroke-width="0.97"/><polyline points="1027.41,517.20 1028.73,518.47 1030.04,519.65 1031.36,520.66 1032.68,521.44 1034.00,521.93 1035.32,522.10 1036.63,521.93 1037.95,521.44 1039.27,520.66 1040.59,519.65 1041.91,518.47 1043.22,517.20" fill="none" stroke="#f1943f" stroke-width="2.3" stroke-linecap="butt"/><polyline points="1027.41,517.20 1028.73,515.93 1030.04,514.75 1031.36,513.74 1032.68,512.96 1034.00,512.47 1035.32,512.30 1036.63,512.47 1037.95,512.96 1039.27,513.74 1040.59,514.75 1041.91,515.93 1043.22,517.20" fill="none" stroke="#f1943f" stroke-width="2.3" stroke-linecap="butt"/><line x1="1047.50" y1="514.33" x2="1047.50" y2="520.07" stroke="#f1943f" stroke-opacity="0.75" stroke-width="0.97"/><line x1="1051.13" y1="513.11" x2="1051.13" y2="521.30" stroke="#f1943f" stroke-opacity="0.75" stroke-width="0.97"/><line x1="1054.77" y1="514.33" x2="1054.77" y2="520.07" stroke="#f1943f" stroke-opacity="0.75" stroke-width="0.97"/><polyline points="1043.22,517.20 1044.54,515.93 1045.86,514.75 1047.18,513.74 1048.50,512.96 1049.82,512.47 1051.13,512.30 1052.45,512.47 1053.77,512.96 1055.09,513.74 1056.41,514.75 1057.72,515.93 1059.04,517.20" fill="none" stroke="#f1943f" stroke-width="2.3" stroke-linecap="butt"/><polyline points="1043.22,517.20 1044.54,518.47 1045.86,519.65 1047.18,520.66 1048.50,521.44 1049.82,521.93 1051.13,522.10 1052.45,521.93 1053.77,521.44 1055.09,520.66 1056.41,519.65 1057.72,518.47 1059.04,517.20" fill="none" stroke="#f1943f" stroke-width="2.3" stroke-linecap="butt"/><line x1="1063.31" y1="514.33" x2="1063.31" y2="520.07" stroke="#f1943f" stroke-opacity="0.75" stroke-width="0.97"/><line x1="1066.95" y1="513.11" x2="1066.95" y2="521.30" stroke="#f1943f" stroke-opacity="0.75" stroke-width="0.97"/><line x1="1070.59" y1="514.33" x2="1070.59" y2="520.07" stroke="#f1943f" stroke-opacity="0.75" stroke-width="0.97"/><polyline points="1059.04,517.20 1060.36,518.47 1061.68,519.65 1063.00,520.66 1064.31,521.44 1065.63,521.93 1066.95,522.10 1068.27,521.93 1069.59,521.44 1070.90,520.66 1072.22,519.65 1073.54,518.47 1074.86,517.20" fill="none" stroke="#f1943f" stroke-width="2.3" stroke-linecap="butt"/><polyline points="1059.04,517.20 1060.36,515.93 1061.68,514.75 1063.00,513.74 1064.31,512.96 1065.63,512.47 1066.95,512.30 1068.27,512.47 1069.59,512.96 1070.90,513.74 1072.22,514.75 1073.54,515.93 1074.86,517.20" fill="none" stroke="#f1943f" stroke-width="2.3" stroke-linecap="butt"/><line x1="1079.13" y1="514.33" x2="1079.13" y2="520.07" stroke="#f1943f" stroke-opacity="0.75" stroke-width="0.97"/><line x1="1082.77" y1="513.11" x2="1082.77" y2="521.30" stroke="#f1943f" stroke-opacity="0.75" stroke-width="0.97"/><line x1="1086.40" y1="514.33" x2="1086.40" y2="520.07" stroke="#f1943f" stroke-opacity="0.75" stroke-width="0.97"/><polyline points="1074.86,517.20 1076.18,515.93 1077.49,514.75 1078.81,513.74 1080.13,512.96 1081.45,512.47 1082.77,512.30 1084.08,512.47 1085.40,512.96 1086.72,513.74 1088.04,514.75 1089.36,515.93 1090.67,517.20" fill="none" stroke="#f1943f" stroke-width="2.3" stroke-linecap="butt"/><polyline points="1074.86,517.20 1076.18,518.47 1077.49,519.65 1078.81,520.66 1080.13,521.44 1081.45,521.93 1082.77,522.10 1084.08,521.93 1085.40,521.44 1086.72,520.66 1088.04,519.65 1089.36,518.47 1090.67,517.20" fill="none" stroke="#f1943f" stroke-width="2.3" stroke-linecap="butt"/><line x1="1094.95" y1="514.33" x2="1094.95" y2="520.07" stroke="#5ea8cc" stroke-opacity="0.75" stroke-width="0.97"/><line x1="1098.58" y1="513.11" x2="1098.58" y2="521.30" stroke="#5ea8cc" stroke-opacity="0.75" stroke-width="0.97"/><line x1="1102.22" y1="514.33" x2="1102.22" y2="520.07" stroke="#5ea8cc" stroke-opacity="0.75" stroke-width="0.97"/><polyline points="1090.67,517.20 1091.99,518.47 1093.31,519.65 1094.63,520.66 1095.95,521.44 1097.27,521.93 1098.58,522.10 1099.90,521.93 1101.22,521.44 1102.54,520.66 1103.86,519.65 1105.17,518.47 1106.49,517.20" fill="none" stroke="#5ea8cc" stroke-width="2.3" stroke-linecap="butt"/><polyline points="1090.67,517.20 1091.99,515.93 1093.31,514.75 1094.63,513.74 1095.95,512.96 1097.27,512.47 1098.58,512.30 1099.90,512.47 1101.22,512.96 1102.54,513.74 1103.86,514.75 1105.17,515.93 1106.49,517.20" fill="none" stroke="#5ea8cc" stroke-width="2.3" stroke-linecap="butt"/><line x1="1110.76" y1="514.33" x2="1110.76" y2="520.07" stroke="#5ea8cc" stroke-opacity="0.75" stroke-width="0.97"/><line x1="1114.40" y1="513.11" x2="1114.40" y2="521.30" stroke="#5ea8cc" stroke-opacity="0.75" stroke-width="0.97"/><line x1="1118.04" y1="514.33" x2="1118.04" y2="520.07" stroke="#5ea8cc" stroke-opacity="0.75" stroke-width="0.97"/><polyline points="1106.49,517.20 1107.81,515.93 1109.13,514.75 1110.45,513.74 1111.76,512.96 1113.08,512.47 1114.40,512.30 1115.72,512.47 1117.04,512.96 1118.35,513.74 1119.67,514.75 1120.99,515.93 1122.31,517.20" fill="none" stroke="#5ea8cc" stroke-width="2.3" stroke-linecap="butt"/><polyline points="1106.49,517.20 1107.81,518.47 1109.13,519.65 1110.45,520.66 1111.76,521.44 1113.08,521.93 1114.40,522.10 1115.72,521.93 1117.04,521.44 1118.35,520.66 1119.67,519.65 1120.99,518.47 1122.31,517.20" fill="none" stroke="#5ea8cc" stroke-width="2.3" stroke-linecap="butt"/><line x1="1126.58" y1="514.33" x2="1126.58" y2="520.07" stroke="#f1943f" stroke-opacity="0.75" stroke-width="0.97"/><line x1="1130.22" y1="513.11" x2="1130.22" y2="521.30" stroke="#f1943f" stroke-opacity="0.75" stroke-width="0.97"/><line x1="1133.85" y1="514.33" x2="1133.85" y2="520.07" stroke="#f1943f" stroke-opacity="0.75" stroke-width="0.97"/><polyline points="1122.31,517.20 1123.63,518.47 1124.94,519.65 1126.26,520.66 1127.58,521.44 1128.90,521.93 1130.22,522.10 1131.53,521.93 1132.85,521.44 1134.17,520.66 1135.49,519.65 1136.81,518.47 1138.12,517.20" fill="none" stroke="#f1943f" stroke-width="2.3" stroke-linecap="butt"/><polyline points="1122.31,517.20 1123.63,515.93 1124.94,514.75 1126.26,513.74 1127.58,512.96 1128.90,512.47 1130.22,512.30 1131.53,512.47 1132.85,512.96 1134.17,513.74 1135.49,514.75 1136.81,515.93 1138.12,517.20" fill="none" stroke="#f1943f" stroke-width="2.3" stroke-linecap="butt"/><line x1="1142.40" y1="514.33" x2="1142.40" y2="520.07" stroke="#f1943f" stroke-opacity="0.75" stroke-width="0.97"/><line x1="1146.03" y1="513.11" x2="1146.03" y2="521.30" stroke="#f1943f" stroke-opacity="0.75" stroke-width="0.97"/><line x1="1149.67" y1="514.33" x2="1149.67" y2="520.07" stroke="#f1943f" stroke-opacity="0.75" stroke-width="0.97"/><polyline points="1138.12,517.20 1139.44,515.93 1140.76,514.75 1142.08,513.74 1143.40,512.96 1144.72,512.47 1146.03,512.30 1147.35,512.47 1148.67,512.96 1149.99,513.74 1151.31,514.75 1152.62,515.93 1153.94,517.20" fill="none" stroke="#f1943f" stroke-width="2.3" stroke-linecap="butt"/><polyline points="1138.12,517.20 1139.44,518.47 1140.76,519.65 1142.08,520.66 1143.40,521.44 1144.72,521.93 1146.03,522.10 1147.35,521.93 1148.67,521.44 1149.99,520.66 1151.31,519.65 1152.62,518.47 1153.94,517.20" fill="none" stroke="#f1943f" stroke-width="2.3" stroke-linecap="butt"/><line x1="1158.21" y1="514.33" x2="1158.21" y2="520.07" stroke="#f1943f" stroke-opacity="0.75" stroke-width="0.97"/><line x1="1161.85" y1="513.11" x2="1161.85" y2="521.30" stroke="#f1943f" stroke-opacity="0.75" stroke-width="0.97"/><line x1="1165.49" y1="514.33" x2="1165.49" y2="520.07" stroke="#f1943f" stroke-opacity="0.75" stroke-width="0.97"/><polyline points="1153.94,517.20 1155.26,518.47 1156.58,519.65 1157.90,520.66 1159.21,521.44 1160.53,521.93 1161.85,522.10 1163.17,521.93 1164.49,521.44 1165.80,520.66 1167.12,519.65 1168.44,518.47 1169.76,517.20" fill="none" stroke="#f1943f" stroke-width="2.3" stroke-linecap="butt"/><polyline points="1153.94,517.20 1155.26,515.93 1156.58,514.75 1157.90,513.74 1159.21,512.96 1160.53,512.47 1161.85,512.30 1163.17,512.47 1164.49,512.96 1165.80,513.74 1167.12,514.75 1168.44,515.93 1169.76,517.20" fill="none" stroke="#f1943f" stroke-width="2.3" stroke-linecap="butt"/><line x1="1174.03" y1="514.33" x2="1174.03" y2="520.07" stroke="#f1943f" stroke-opacity="0.75" stroke-width="0.97"/><line x1="1177.67" y1="513.11" x2="1177.67" y2="521.30" stroke="#f1943f" stroke-opacity="0.75" stroke-width="0.97"/><line x1="1181.30" y1="514.33" x2="1181.30" y2="520.07" stroke="#f1943f" stroke-opacity="0.75" stroke-width="0.97"/><polyline points="1169.76,517.20 1171.08,515.93 1172.39,514.75 1173.71,513.74 1175.03,512.96 1176.35,512.47 1177.67,512.30 1178.98,512.47 1180.30,512.96 1181.62,513.74 1182.94,514.75 1184.26,515.93 1185.57,517.20" fill="none" stroke="#f1943f" stroke-width="2.3" stroke-linecap="butt"/><polyline points="1169.76,517.20 1171.08,518.47 1172.39,519.65 1173.71,520.66 1175.03,521.44 1176.35,521.93 1177.67,522.10 1178.98,521.93 1180.30,521.44 1181.62,520.66 1182.94,519.65 1184.26,518.47 1185.57,517.20" fill="none" stroke="#f1943f" stroke-width="2.3" stroke-linecap="butt"/><line x1="1189.85" y1="514.33" x2="1189.85" y2="520.07" stroke="#f1943f" stroke-opacity="0.75" stroke-width="0.97"/><line x1="1193.48" y1="513.11" x2="1193.48" y2="521.30" stroke="#f1943f" stroke-opacity="0.75" stroke-width="0.97"/><line x1="1197.12" y1="514.33" x2="1197.12" y2="520.07" stroke="#f1943f" stroke-opacity="0.75" stroke-width="0.97"/><polyline points="1185.57,517.20 1186.89,518.47 1188.21,519.65 1189.53,520.66 1190.85,521.44 1192.17,521.93 1193.48,522.10 1194.80,521.93 1196.12,521.44 1197.44,520.66 1198.76,519.65 1200.07,518.47 1201.39,517.20" fill="none" stroke="#f1943f" stroke-width="2.3" stroke-linecap="butt"/><polyline points="1185.57,517.20 1186.89,515.93 1188.21,514.75 1189.53,513.74 1190.85,512.96 1192.17,512.47 1193.48,512.30 1194.80,512.47 1196.12,512.96 1197.44,513.74 1198.76,514.75 1200.07,515.93 1201.39,517.20" fill="none" stroke="#f1943f" stroke-width="2.3" stroke-linecap="butt"/><line x1="1205.66" y1="514.33" x2="1205.66" y2="520.07" stroke="#f1943f" stroke-opacity="0.75" stroke-width="0.97"/><polyline points="1201.39,517.20 1202.05,516.56 1202.71,515.93 1203.37,515.32 1204.03,514.75 1204.69,514.22 1205.35,513.74 1206.00,513.31 1206.66,512.96 1207.32,512.67 1207.98,512.47 1208.64,512.34 1209.30,512.30" fill="none" stroke="#f1943f" stroke-width="2.3" stroke-linecap="butt"/><polyline points="1201.39,517.20 1202.05,517.84 1202.71,518.47 1203.37,519.08 1204.03,519.65 1204.69,520.18 1205.35,520.66 1206.00,521.09 1206.66,521.44 1207.32,521.73 1207.98,521.93 1208.64,522.06 1209.30,522.10" fill="none" stroke="#f1943f" stroke-width="2.3" stroke-linecap="butt"/></g>
<rect x="1042.62" y="507.40" width="18.6" height="19" fill="none" stroke="#c6622a" stroke-width="2.8"/>
<rect x="1090.08" y="507.40" width="31.23" height="19" fill="none" stroke="#1b6a8a" stroke-width="2.8"/>
<use href="#hm" x="993.00" y="542.00" width="16.50" height="45.50" fill="#f4842a"/>
<rect x="1015.60" y="554.80" width="26.62" height="19" fill="#dcedf5"/>
<rect x="1184.97" y="554.80" width="24.93" height="19" fill="#dcedf5"/>
<g><line x1="1023.14" y1="561.73" x2="1023.14" y2="567.47" stroke="#5ea8cc" stroke-opacity="0.75" stroke-width="0.97"/><polyline points="1019.50,559.70 1020.16,559.74 1020.82,559.87 1021.48,560.07 1022.14,560.36 1022.80,560.71 1023.45,561.14 1024.11,561.62 1024.77,562.15 1025.43,562.72 1026.09,563.33 1026.75,563.96 1027.41,564.60" fill="none" stroke="#5ea8cc" stroke-width="2.3" stroke-linecap="butt"/><polyline points="1019.50,569.50 1020.16,569.46 1020.82,569.33 1021.48,569.13 1022.14,568.84 1022.80,568.49 1023.45,568.06 1024.11,567.58 1024.77,567.05 1025.43,566.48 1026.09,565.87 1026.75,565.24 1027.41,564.60" fill="none" stroke="#5ea8cc" stroke-width="2.3" stroke-linecap="butt"/><line x1="1031.68" y1="561.73" x2="1031.68" y2="567.47" stroke="#5ea8cc" stroke-opacity="0.75" stroke-width="0.97"/><line x1="1035.32" y1="560.50" x2="1035.32" y2="568.70" stroke="#5ea8cc" stroke-opacity="0.75" stroke-width="0.97"/><line x1="1038.95" y1="561.73" x2="1038.95" y2="567.47" stroke="#5ea8cc" stroke-opacity="0.75" stroke-width="0.97"/><polyline points="1027.41,564.60 1028.73,565.87 1030.04,567.05 1031.36,568.06 1032.68,568.84 1034.00,569.33 1035.32,569.50 1036.63,569.33 1037.95,568.84 1039.27,568.06 1040.59,567.05 1041.91,565.87 1043.22,564.60" fill="none" stroke="#5ea8cc" stroke-width="2.3" stroke-linecap="butt"/><polyline points="1027.41,564.60 1028.73,563.33 1030.04,562.15 1031.36,561.14 1032.68,560.36 1034.00,559.87 1035.32,559.70 1036.63,559.87 1037.95,560.36 1039.27,561.14 1040.59,562.15 1041.91,563.33 1043.22,564.60" fill="none" stroke="#5ea8cc" stroke-width="2.3" stroke-linecap="butt"/><line x1="1047.50" y1="561.73" x2="1047.50" y2="567.47" stroke="#f1943f" stroke-opacity="0.75" stroke-width="0.97"/><line x1="1051.13" y1="560.50" x2="1051.13" y2="568.70" stroke="#f1943f" stroke-opacity="0.75" stroke-width="0.97"/><line x1="1054.77" y1="561.73" x2="1054.77" y2="567.47" stroke="#f1943f" stroke-opacity="0.75" stroke-width="0.97"/><polyline points="1043.22,564.60 1044.54,563.33 1045.86,562.15 1047.18,561.14 1048.50,560.36 1049.82,559.87 1051.13,559.70 1052.45,559.87 1053.77,560.36 1055.09,561.14 1056.41,562.15 1057.72,563.33 1059.04,564.60" fill="none" stroke="#f1943f" stroke-width="2.3" stroke-linecap="butt"/><polyline points="1043.22,564.60 1044.54,565.87 1045.86,567.05 1047.18,568.06 1048.50,568.84 1049.82,569.33 1051.13,569.50 1052.45,569.33 1053.77,568.84 1055.09,568.06 1056.41,567.05 1057.72,565.87 1059.04,564.60" fill="none" stroke="#f1943f" stroke-width="2.3" stroke-linecap="butt"/><line x1="1063.31" y1="561.73" x2="1063.31" y2="567.47" stroke="#f1943f" stroke-opacity="0.75" stroke-width="0.97"/><line x1="1066.95" y1="560.50" x2="1066.95" y2="568.70" stroke="#f1943f" stroke-opacity="0.75" stroke-width="0.97"/><line x1="1070.59" y1="561.73" x2="1070.59" y2="567.47" stroke="#f1943f" stroke-opacity="0.75" stroke-width="0.97"/><polyline points="1059.04,564.60 1060.36,565.87 1061.68,567.05 1063.00,568.06 1064.31,568.84 1065.63,569.33 1066.95,569.50 1068.27,569.33 1069.59,568.84 1070.90,568.06 1072.22,567.05 1073.54,565.87 1074.86,564.60" fill="none" stroke="#f1943f" stroke-width="2.3" stroke-linecap="butt"/><polyline points="1059.04,564.60 1060.36,563.33 1061.68,562.15 1063.00,561.14 1064.31,560.36 1065.63,559.87 1066.95,559.70 1068.27,559.87 1069.59,560.36 1070.90,561.14 1072.22,562.15 1073.54,563.33 1074.86,564.60" fill="none" stroke="#f1943f" stroke-width="2.3" stroke-linecap="butt"/><line x1="1079.13" y1="561.73" x2="1079.13" y2="567.47" stroke="#f1943f" stroke-opacity="0.75" stroke-width="0.97"/><line x1="1082.77" y1="560.50" x2="1082.77" y2="568.70" stroke="#f1943f" stroke-opacity="0.75" stroke-width="0.97"/><line x1="1086.40" y1="561.73" x2="1086.40" y2="567.47" stroke="#f1943f" stroke-opacity="0.75" stroke-width="0.97"/><polyline points="1074.86,564.60 1076.18,563.33 1077.49,562.15 1078.81,561.14 1080.13,560.36 1081.45,559.87 1082.77,559.70 1084.08,559.87 1085.40,560.36 1086.72,561.14 1088.04,562.15 1089.36,563.33 1090.67,564.60" fill="none" stroke="#f1943f" stroke-width="2.3" stroke-linecap="butt"/><polyline points="1074.86,564.60 1076.18,565.87 1077.49,567.05 1078.81,568.06 1080.13,568.84 1081.45,569.33 1082.77,569.50 1084.08,569.33 1085.40,568.84 1086.72,568.06 1088.04,567.05 1089.36,565.87 1090.67,564.60" fill="none" stroke="#f1943f" stroke-width="2.3" stroke-linecap="butt"/><line x1="1094.95" y1="561.73" x2="1094.95" y2="567.47" stroke="#f1943f" stroke-opacity="0.75" stroke-width="0.97"/><line x1="1098.58" y1="560.50" x2="1098.58" y2="568.70" stroke="#f1943f" stroke-opacity="0.75" stroke-width="0.97"/><line x1="1102.22" y1="561.73" x2="1102.22" y2="567.47" stroke="#f1943f" stroke-opacity="0.75" stroke-width="0.97"/><polyline points="1090.67,564.60 1091.99,565.87 1093.31,567.05 1094.63,568.06 1095.95,568.84 1097.27,569.33 1098.58,569.50 1099.90,569.33 1101.22,568.84 1102.54,568.06 1103.86,567.05 1105.17,565.87 1106.49,564.60" fill="none" stroke="#f1943f" stroke-width="2.3" stroke-linecap="butt"/><polyline points="1090.67,564.60 1091.99,563.33 1093.31,562.15 1094.63,561.14 1095.95,560.36 1097.27,559.87 1098.58,559.70 1099.90,559.87 1101.22,560.36 1102.54,561.14 1103.86,562.15 1105.17,563.33 1106.49,564.60" fill="none" stroke="#f1943f" stroke-width="2.3" stroke-linecap="butt"/><line x1="1110.76" y1="561.73" x2="1110.76" y2="567.47" stroke="#f1943f" stroke-opacity="0.75" stroke-width="0.97"/><line x1="1114.40" y1="560.50" x2="1114.40" y2="568.70" stroke="#f1943f" stroke-opacity="0.75" stroke-width="0.97"/><line x1="1118.04" y1="561.73" x2="1118.04" y2="567.47" stroke="#f1943f" stroke-opacity="0.75" stroke-width="0.97"/><polyline points="1106.49,564.60 1107.81,563.33 1109.13,562.15 1110.45,561.14 1111.76,560.36 1113.08,559.87 1114.40,559.70 1115.72,559.87 1117.04,560.36 1118.35,561.14 1119.67,562.15 1120.99,563.33 1122.31,564.60" fill="none" stroke="#f1943f" stroke-width="2.3" stroke-linecap="butt"/><polyline points="1106.49,564.60 1107.81,565.87 1109.13,567.05 1110.45,568.06 1111.76,568.84 1113.08,569.33 1114.40,569.50 1115.72,569.33 1117.04,568.84 1118.35,568.06 1119.67,567.05 1120.99,565.87 1122.31,564.60" fill="none" stroke="#f1943f" stroke-width="2.3" stroke-linecap="butt"/><line x1="1126.58" y1="561.73" x2="1126.58" y2="567.47" stroke="#f1943f" stroke-opacity="0.75" stroke-width="0.97"/><line x1="1130.22" y1="560.50" x2="1130.22" y2="568.70" stroke="#f1943f" stroke-opacity="0.75" stroke-width="0.97"/><line x1="1133.85" y1="561.73" x2="1133.85" y2="567.47" stroke="#f1943f" stroke-opacity="0.75" stroke-width="0.97"/><polyline points="1122.31,564.60 1123.63,565.87 1124.94,567.05 1126.26,568.06 1127.58,568.84 1128.90,569.33 1130.22,569.50 1131.53,569.33 1132.85,568.84 1134.17,568.06 1135.49,567.05 1136.81,565.87 1138.12,564.60" fill="none" stroke="#f1943f" stroke-width="2.3" stroke-linecap="butt"/><polyline points="1122.31,564.60 1123.63,563.33 1124.94,562.15 1126.26,561.14 1127.58,560.36 1128.90,559.87 1130.22,559.70 1131.53,559.87 1132.85,560.36 1134.17,561.14 1135.49,562.15 1136.81,563.33 1138.12,564.60" fill="none" stroke="#f1943f" stroke-width="2.3" stroke-linecap="butt"/><line x1="1142.40" y1="561.73" x2="1142.40" y2="567.47" stroke="#f1943f" stroke-opacity="0.75" stroke-width="0.97"/><line x1="1146.03" y1="560.50" x2="1146.03" y2="568.70" stroke="#f1943f" stroke-opacity="0.75" stroke-width="0.97"/><line x1="1149.67" y1="561.73" x2="1149.67" y2="567.47" stroke="#f1943f" stroke-opacity="0.75" stroke-width="0.97"/><polyline points="1138.12,564.60 1139.44,563.33 1140.76,562.15 1142.08,561.14 1143.40,560.36 1144.72,559.87 1146.03,559.70 1147.35,559.87 1148.67,560.36 1149.99,561.14 1151.31,562.15 1152.62,563.33 1153.94,564.60" fill="none" stroke="#f1943f" stroke-width="2.3" stroke-linecap="butt"/><polyline points="1138.12,564.60 1139.44,565.87 1140.76,567.05 1142.08,568.06 1143.40,568.84 1144.72,569.33 1146.03,569.50 1147.35,569.33 1148.67,568.84 1149.99,568.06 1151.31,567.05 1152.62,565.87 1153.94,564.60" fill="none" stroke="#f1943f" stroke-width="2.3" stroke-linecap="butt"/><line x1="1158.21" y1="561.73" x2="1158.21" y2="567.47" stroke="#f1943f" stroke-opacity="0.75" stroke-width="0.97"/><line x1="1161.85" y1="560.50" x2="1161.85" y2="568.70" stroke="#f1943f" stroke-opacity="0.75" stroke-width="0.97"/><line x1="1165.49" y1="561.73" x2="1165.49" y2="567.47" stroke="#f1943f" stroke-opacity="0.75" stroke-width="0.97"/><polyline points="1153.94,564.60 1155.26,565.87 1156.58,567.05 1157.90,568.06 1159.21,568.84 1160.53,569.33 1161.85,569.50 1163.17,569.33 1164.49,568.84 1165.80,568.06 1167.12,567.05 1168.44,565.87 1169.76,564.60" fill="none" stroke="#f1943f" stroke-width="2.3" stroke-linecap="butt"/><polyline points="1153.94,564.60 1155.26,563.33 1156.58,562.15 1157.90,561.14 1159.21,560.36 1160.53,559.87 1161.85,559.70 1163.17,559.87 1164.49,560.36 1165.80,561.14 1167.12,562.15 1168.44,563.33 1169.76,564.60" fill="none" stroke="#f1943f" stroke-width="2.3" stroke-linecap="butt"/><line x1="1174.03" y1="561.73" x2="1174.03" y2="567.47" stroke="#f1943f" stroke-opacity="0.75" stroke-width="0.97"/><line x1="1177.67" y1="560.50" x2="1177.67" y2="568.70" stroke="#f1943f" stroke-opacity="0.75" stroke-width="0.97"/><line x1="1181.30" y1="561.73" x2="1181.30" y2="567.47" stroke="#f1943f" stroke-opacity="0.75" stroke-width="0.97"/><polyline points="1169.76,564.60 1171.08,563.33 1172.39,562.15 1173.71,561.14 1175.03,560.36 1176.35,559.87 1177.67,559.70 1178.98,559.87 1180.30,560.36 1181.62,561.14 1182.94,562.15 1184.26,563.33 1185.57,564.60" fill="none" stroke="#f1943f" stroke-width="2.3" stroke-linecap="butt"/><polyline points="1169.76,564.60 1171.08,565.87 1172.39,567.05 1173.71,568.06 1175.03,568.84 1176.35,569.33 1177.67,569.50 1178.98,569.33 1180.30,568.84 1181.62,568.06 1182.94,567.05 1184.26,565.87 1185.57,564.60" fill="none" stroke="#f1943f" stroke-width="2.3" stroke-linecap="butt"/><line x1="1189.85" y1="561.73" x2="1189.85" y2="567.47" stroke="#5ea8cc" stroke-opacity="0.75" stroke-width="0.97"/><line x1="1193.48" y1="560.50" x2="1193.48" y2="568.70" stroke="#5ea8cc" stroke-opacity="0.75" stroke-width="0.97"/><line x1="1197.12" y1="561.73" x2="1197.12" y2="567.47" stroke="#5ea8cc" stroke-opacity="0.75" stroke-width="0.97"/><polyline points="1185.57,564.60 1186.89,565.87 1188.21,567.05 1189.53,568.06 1190.85,568.84 1192.17,569.33 1193.48,569.50 1194.80,569.33 1196.12,568.84 1197.44,568.06 1198.76,567.05 1200.07,565.87 1201.39,564.60" fill="none" stroke="#5ea8cc" stroke-width="2.3" stroke-linecap="butt"/><polyline points="1185.57,564.60 1186.89,563.33 1188.21,562.15 1189.53,561.14 1190.85,560.36 1192.17,559.87 1193.48,559.70 1194.80,559.87 1196.12,560.36 1197.44,561.14 1198.76,562.15 1200.07,563.33 1201.39,564.60" fill="none" stroke="#5ea8cc" stroke-width="2.3" stroke-linecap="butt"/><line x1="1205.66" y1="561.73" x2="1205.66" y2="567.47" stroke="#5ea8cc" stroke-opacity="0.75" stroke-width="0.97"/><polyline points="1201.39,564.60 1202.05,563.96 1202.71,563.33 1203.37,562.72 1204.03,562.15 1204.69,561.62 1205.35,561.14 1206.00,560.71 1206.66,560.36 1207.32,560.07 1207.98,559.87 1208.64,559.74 1209.30,559.70" fill="none" stroke="#5ea8cc" stroke-width="2.3" stroke-linecap="butt"/><polyline points="1201.39,564.60 1202.05,565.24 1202.71,565.87 1203.37,566.48 1204.03,567.05 1204.69,567.58 1205.35,568.06 1206.00,568.49 1206.66,568.84 1207.32,569.13 1207.98,569.33 1208.64,569.46 1209.30,569.50" fill="none" stroke="#5ea8cc" stroke-width="2.3" stroke-linecap="butt"/></g>
<rect x="1015.60" y="554.80" width="26.62" height="19" fill="none" stroke="#1b6a8a" stroke-width="2.8"/>
<rect x="1184.97" y="554.80" width="24.93" height="19" fill="none" stroke="#1b6a8a" stroke-width="2.8"/>
<text x="936.30" y="618.6" font-size="19.5" font-weight="400" fill="#2b2b2b" textLength="263.0" lengthAdjust="spacingAndGlyphs" >Leverage human-introgressed</text>
<text x="933.20" y="642" font-size="19.5" font-weight="400" fill="#2b2b2b" textLength="263.0" lengthAdjust="spacingAndGlyphs" >sequences in Neanderthals to:</text>
<path d="M1075.1,652 C1075,672 1040,680 980,681.5 L640,683.4 C450,686 300,692 260,703 C240,709 228,716 219,726" fill="none" stroke="#231f20" stroke-width="1.8"/>
<polygon points="213.80,739.50 215.40,723.77 219.34,727.19 224.52,727.87" fill="#231f20"/>
<path d="M801.7,682 C738,684 690,700 678.6,725" fill="none" stroke="#231f20" stroke-width="1.8"/>
<polygon points="674.10,738.30 673.62,722.50 677.98,725.37 683.20,725.37" fill="#231f20"/>
<line x1="1075.3" y1="652" x2="1075.3" y2="725" stroke="#231f20" stroke-width="1.8"/>
<polygon points="1075.30,737.50 1070.30,721.50 1075.30,723.00 1080.30,721.50" fill="#231f20"/>
<text x="41.20" y="766.5" font-size="22" font-weight="700" fill="#231f20" textLength="391.5" lengthAdjust="spacingAndGlyphs" stroke="#231f20" stroke-width="0.55" >Refine estimated amounts of introgressed</text>
<text x="46.70" y="788" font-size="22" font-weight="700" fill="#231f20" textLength="369.5" lengthAdjust="spacingAndGlyphs" stroke="#231f20" stroke-width="0.55" >sequences in humans and Neanderthals</text>
<path d="M63.3,818.4 L63.3,958.3 L393.7,958.3" fill="none" stroke="#3a3a3a" stroke-width="1.6"/>
<text x="0.00" y="0" font-size="21" font-weight="400" fill="#2b2b2b" textLength="164" lengthAdjust="spacingAndGlyphs" transform="translate(51.5,971) rotate(-90)" ># introgressed bps</text>
<circle cx="75.1" cy="944.9" r="7.8" fill="#4e9dc0"/>
<circle cx="111.1" cy="944" r="7.8" fill="#4e9dc0"/>
<circle cx="148.8" cy="937.2" r="7.8" fill="#4e9dc0"/>
<circle cx="186.8" cy="860.3" r="7.8" fill="#4e9dc0"/>
<circle cx="223.6" cy="859.4" r="7.8" fill="#4e9dc0"/>
<circle cx="261.6" cy="854" r="7.8" fill="#4e9dc0"/>
<circle cx="298.1" cy="852" r="7.8" fill="#4e9dc0"/>
<circle cx="334.3" cy="840.7" r="7.8" fill="#f4842a"/>
<circle cx="372.9" cy="829.7" r="7.8" fill="#f4842a"/>
<use href="#hm" x="58.20" y="965.90" width="33.00" height="90.70" fill="#f4842a"/>
<use href="#hm" x="96.00" y="965.90" width="33.00" height="90.70" fill="#f4842a"/>
<use href="#hm" x="133.40" y="965.90" width="33.00" height="90.70" fill="#f4842a"/>
<use href="#hm" x="170.30" y="965.90" width="33.00" height="90.70" fill="#f4842a"/>
<use href="#hm" x="208.00" y="965.90" width="33.00" height="90.70" fill="#f4842a"/>
<use href="#hm" x="245.50" y="965.90" width="33.00" height="90.70" fill="#f4842a"/>
<use href="#hm" x="282.40" y="965.90" width="33.00" height="90.70" fill="#f4842a"/>
<use href="#hn" x="316.60" y="973.20" width="35.60" height="83.40" fill="#4e9dc0"/>
<use href="#hn" x="356.30" y="973.20" width="35.50" height="83.40" fill="#4e9dc0"/>
<line x1="65" y1="1067" x2="159.4" y2="1067" stroke="#777" stroke-width="1.4"/>
<line x1="178.5" y1="1067" x2="308.4" y2="1067" stroke="#777" stroke-width="1.4"/>
<line x1="320.7" y1="1067" x2="386.9" y2="1067" stroke="#777" stroke-width="1.4"/>
<text x="76.00" y="1088" font-size="21" font-weight="700" fill="#231f20" textLength="76.5" lengthAdjust="spacingAndGlyphs" >Africans</text>
<text x="184.10" y="1088" font-size="21" font-weight="700" fill="#231f20" textLength="118.5" lengthAdjust="spacingAndGlyphs" >Non-Africans</text>
<text x="314.20" y="1088" font-size="21" font-weight="700" fill="#231f20" textLength="122.0" lengthAdjust="spacingAndGlyphs" >Neanderthals</text>
<text x="480.90" y="767.3" font-size="21.5" font-weight="700" fill="#231f20" textLength="412.0" lengthAdjust="spacingAndGlyphs" stroke="#231f20" stroke-width="0.55" >Discover Neanderthal population size (<tspan font-style="italic">N</tspan><tspan font-size="17" dy="4.5">e</tspan><tspan dy="-4.5">) is</tspan></text>
<text x="518.70" y="788.8" font-size="21.5" font-weight="700" fill="#231f20" textLength="317.5" lengthAdjust="spacingAndGlyphs" stroke="#231f20" stroke-width="0.55" >smaller than previously estimated</text>
<text x="446.50" y="826.7" font-size="21" font-weight="400" fill="#2b2b2b" textLength="218.0" lengthAdjust="spacingAndGlyphs" >Human sequences cause</text>
<text x="480.90" y="847.4" font-size="21" font-weight="400" fill="#2b2b2b" textLength="155.0" lengthAdjust="spacingAndGlyphs" >overestimated <tspan font-style="italic">N</tspan><tspan font-size="17" dy="5">e</tspan></text>
<text x="677.70" y="826.7" font-size="21" font-weight="400" fill="#2b2b2b" textLength="232.0" lengthAdjust="spacingAndGlyphs" >Masking human sequences</text>
<text x="675.00" y="847.4" font-size="21" font-weight="400" fill="#2b2b2b" textLength="252.0" lengthAdjust="spacingAndGlyphs" >leads to smaller estimated <tspan font-style="italic">N</tspan><tspan font-size="17" dy="5">e</tspan></text>
<g><line x1="513.67" y1="870.28" x2="513.67" y2="882.32" stroke="#4e9dc0" stroke-opacity="0.7" stroke-width="1.18"/><line x1="518.88" y1="872.03" x2="518.88" y2="880.57" stroke="#4e9dc0" stroke-opacity="0.7" stroke-width="1.18"/><polyline points="511.20,869.71 512.35,869.42 513.50,869.30 514.65,869.36 515.80,869.60 516.95,870.01 518.10,870.58 519.25,871.29 520.40,872.13 521.55,873.08 522.70,874.11 523.85,875.19 525.00,876.30" fill="none" stroke="#4e9dc0" stroke-width="2.8" stroke-linecap="butt"/><polyline points="511.20,882.89 512.35,883.18 513.50,883.30 514.65,883.24 515.80,883.00 516.95,882.59 518.10,882.02 519.25,881.31 520.40,880.47 521.55,879.52 522.70,878.49 523.85,877.41 525.00,876.30" fill="none" stroke="#4e9dc0" stroke-width="2.8" stroke-linecap="butt"/><line x1="531.12" y1="872.03" x2="531.12" y2="880.57" stroke="#f4842a" stroke-opacity="0.7" stroke-width="1.18"/><line x1="536.33" y1="870.28" x2="536.33" y2="882.32" stroke="#f4842a" stroke-opacity="0.7" stroke-width="1.18"/><line x1="541.55" y1="872.03" x2="541.55" y2="880.57" stroke="#f4842a" stroke-opacity="0.7" stroke-width="1.18"/><polyline points="525.00,876.30 526.89,878.11 528.78,879.80 530.67,881.25 532.56,882.36 534.44,883.06 536.33,883.30 538.22,883.06 540.11,882.36 542.00,881.25 543.89,879.80 545.78,878.11 547.67,876.30" fill="none" stroke="#f4842a" stroke-width="2.8" stroke-linecap="butt"/><polyline points="525.00,876.30 526.89,874.49 528.78,872.80 530.67,871.35 532.56,870.24 534.44,869.54 536.33,869.30 538.22,869.54 540.11,870.24 542.00,871.35 543.89,872.80 545.78,874.49 547.67,876.30" fill="none" stroke="#f4842a" stroke-width="2.8" stroke-linecap="butt"/><line x1="553.79" y1="872.03" x2="553.79" y2="880.57" stroke="#4e9dc0" stroke-opacity="0.7" stroke-width="1.18"/><line x1="559.00" y1="870.28" x2="559.00" y2="882.32" stroke="#4e9dc0" stroke-opacity="0.7" stroke-width="1.18"/><line x1="564.21" y1="872.03" x2="564.21" y2="880.57" stroke="#4e9dc0" stroke-opacity="0.7" stroke-width="1.18"/><polyline points="547.67,876.30 549.56,874.49 551.44,872.80 553.33,871.35 555.22,870.24 557.11,869.54 559.00,869.30 560.89,869.54 562.78,870.24 564.67,871.35 566.56,872.80 568.44,874.49 570.33,876.30" fill="none" stroke="#4e9dc0" stroke-width="2.8" stroke-linecap="butt"/><polyline points="547.67,876.30 549.56,878.11 551.44,879.80 553.33,881.25 555.22,882.36 557.11,883.06 559.00,883.30 560.89,883.06 562.78,882.36 564.67,881.25 566.56,879.80 568.44,878.11 570.33,876.30" fill="none" stroke="#4e9dc0" stroke-width="2.8" stroke-linecap="butt"/><line x1="576.45" y1="872.03" x2="576.45" y2="880.57" stroke="#f4842a" stroke-opacity="0.7" stroke-width="1.18"/><line x1="581.67" y1="870.28" x2="581.67" y2="882.32" stroke="#f4842a" stroke-opacity="0.7" stroke-width="1.18"/><line x1="586.88" y1="872.03" x2="586.88" y2="880.57" stroke="#f4842a" stroke-opacity="0.7" stroke-width="1.18"/><polyline points="570.33,876.30 572.22,878.11 574.11,879.80 576.00,881.25 577.89,882.36 579.78,883.06 581.67,883.30 583.56,883.06 585.44,882.36 587.33,881.25 589.22,879.80 591.11,878.11 593.00,876.30" fill="none" stroke="#f4842a" stroke-width="2.8" stroke-linecap="butt"/><polyline points="570.33,876.30 572.22,874.49 574.11,872.80 576.00,871.35 577.89,870.24 579.78,869.54 581.67,869.30 583.56,869.54 585.44,870.24 587.33,871.35 589.22,872.80 591.11,874.49 593.00,876.30" fill="none" stroke="#f4842a" stroke-width="2.8" stroke-linecap="butt"/><line x1="599.12" y1="872.03" x2="599.12" y2="880.57" stroke="#4e9dc0" stroke-opacity="0.7" stroke-width="1.18"/><line x1="604.33" y1="870.28" x2="604.33" y2="882.32" stroke="#4e9dc0" stroke-opacity="0.7" stroke-width="1.18"/><polyline points="593.00,876.30 594.15,875.19 595.30,874.11 596.45,873.08 597.60,872.13 598.75,871.29 599.90,870.58 601.05,870.01 602.20,869.60 603.35,869.36 604.50,869.30 605.65,869.42 606.80,869.71" fill="none" stroke="#4e9dc0" stroke-width="2.8" stroke-linecap="butt"/><polyline points="593.00,876.30 594.15,877.41 595.30,878.49 596.45,879.52 597.60,880.47 598.75,881.31 599.90,882.02 601.05,882.59 602.20,883.00 603.35,883.24 604.50,883.30 605.65,883.18 606.80,882.89" fill="none" stroke="#4e9dc0" stroke-width="2.8" stroke-linecap="butt"/></g>
<g><line x1="734.65" y1="870.28" x2="734.65" y2="882.32" stroke="#4e9dc0" stroke-opacity="0.7" stroke-width="1.18"/><line x1="739.96" y1="872.03" x2="739.96" y2="880.57" stroke="#4e9dc0" stroke-opacity="0.7" stroke-width="1.18"/><polyline points="732.40,869.63 733.55,869.38 734.70,869.30 735.85,869.39 737.00,869.65 738.15,870.08 739.30,870.65 740.45,871.37 741.60,872.20 742.75,873.13 743.90,874.15 745.05,875.21 746.20,876.30" fill="none" stroke="#4e9dc0" stroke-width="2.8" stroke-linecap="butt"/><polyline points="732.40,882.97 733.55,883.22 734.70,883.30 735.85,883.21 737.00,882.95 738.15,882.52 739.30,881.95 740.45,881.23 741.60,880.40 742.75,879.47 743.90,878.45 745.05,877.39 746.20,876.30" fill="none" stroke="#4e9dc0" stroke-width="2.8" stroke-linecap="butt"/><line x1="752.44" y1="872.03" x2="752.44" y2="880.57" stroke="#f4842a" stroke-opacity="0.7" stroke-width="1.18"/><line x1="757.75" y1="870.28" x2="757.75" y2="882.32" stroke="#f4842a" stroke-opacity="0.7" stroke-width="1.18"/><line x1="763.06" y1="872.03" x2="763.06" y2="880.57" stroke="#f4842a" stroke-opacity="0.7" stroke-width="1.18"/><polyline points="746.20,876.30 748.12,878.11 750.05,879.80 751.97,881.25 753.90,882.36 755.82,883.06 757.75,883.30 759.67,883.06 761.60,882.36 763.52,881.25 765.45,879.80 767.38,878.11 769.30,876.30" fill="none" stroke="#f4842a" stroke-width="2.8" stroke-linecap="butt"/><polyline points="746.20,876.30 748.12,874.49 750.05,872.80 751.97,871.35 753.90,870.24 755.82,869.54 757.75,869.30 759.67,869.54 761.60,870.24 763.52,871.35 765.45,872.80 767.38,874.49 769.30,876.30" fill="none" stroke="#f4842a" stroke-width="2.8" stroke-linecap="butt"/><line x1="775.54" y1="872.03" x2="775.54" y2="880.57" stroke="#4e9dc0" stroke-opacity="0.7" stroke-width="1.18"/><line x1="780.85" y1="870.28" x2="780.85" y2="882.32" stroke="#4e9dc0" stroke-opacity="0.7" stroke-width="1.18"/><line x1="786.16" y1="872.03" x2="786.16" y2="880.57" stroke="#4e9dc0" stroke-opacity="0.7" stroke-width="1.18"/><polyline points="769.30,876.30 771.22,874.49 773.15,872.80 775.07,871.35 777.00,870.24 778.92,869.54 780.85,869.30 782.77,869.54 784.70,870.24 786.62,871.35 788.55,872.80 790.48,874.49 792.40,876.30" fill="none" stroke="#4e9dc0" stroke-width="2.8" stroke-linecap="butt"/><polyline points="769.30,876.30 771.22,878.11 773.15,879.80 775.07,881.25 777.00,882.36 778.92,883.06 780.85,883.30 782.77,883.06 784.70,882.36 786.62,881.25 788.55,879.80 790.48,878.11 792.40,876.30" fill="none" stroke="#4e9dc0" stroke-width="2.8" stroke-linecap="butt"/><line x1="798.64" y1="872.03" x2="798.64" y2="880.57" stroke="#f4842a" stroke-opacity="0.7" stroke-width="1.18"/><line x1="803.95" y1="870.28" x2="803.95" y2="882.32" stroke="#f4842a" stroke-opacity="0.7" stroke-width="1.18"/><line x1="809.26" y1="872.03" x2="809.26" y2="880.57" stroke="#f4842a" stroke-opacity="0.7" stroke-width="1.18"/><polyline points="792.40,876.30 794.32,878.11 796.25,879.80 798.17,881.25 800.10,882.36 802.02,883.06 803.95,883.30 805.87,883.06 807.80,882.36 809.72,881.25 811.65,879.80 813.57,878.11 815.50,876.30" fill="none" stroke="#f4842a" stroke-width="2.8" stroke-linecap="butt"/><polyline points="792.40,876.30 794.32,874.49 796.25,872.80 798.17,871.35 800.10,870.24 802.02,869.54 803.95,869.30 805.87,869.54 807.80,870.24 809.72,871.35 811.65,872.80 813.57,874.49 815.50,876.30" fill="none" stroke="#f4842a" stroke-width="2.8" stroke-linecap="butt"/><line x1="821.74" y1="872.03" x2="821.74" y2="880.57" stroke="#4e9dc0" stroke-opacity="0.7" stroke-width="1.18"/><line x1="827.05" y1="870.28" x2="827.05" y2="882.32" stroke="#4e9dc0" stroke-opacity="0.7" stroke-width="1.18"/><polyline points="815.50,876.30 816.65,875.21 817.80,874.15 818.95,873.13 820.10,872.20 821.25,871.37 822.40,870.65 823.55,870.08 824.70,869.65 825.85,869.39 827.00,869.30 828.15,869.38 829.30,869.63" fill="none" stroke="#4e9dc0" stroke-width="2.8" stroke-linecap="butt"/><polyline points="815.50,876.30 816.65,877.39 817.80,878.45 818.95,879.47 820.10,880.40 821.25,881.23 822.40,881.95 823.55,882.52 824.70,882.95 825.85,883.21 827.00,883.30 828.15,883.22 829.30,882.97" fill="none" stroke="#4e9dc0" stroke-width="2.8" stroke-linecap="butt"/></g>
<rect x="731" y="868.5" width="15.8" height="15.4" fill="#6f7f8c" fill-opacity="0.5"/>
<rect x="770.9" y="868.5" width="18" height="15.4" fill="#6f7f8c" fill-opacity="0.5"/>
<use href="#hn" x="496.00" y="911.80" width="36.00" height="83.60" fill="#4e9dc0"/>
<use href="#hn" x="542.00" y="911.80" width="36.00" height="83.60" fill="#4e9dc0"/>
<use href="#hn" x="586.60" y="911.80" width="36.00" height="83.60" fill="#4e9dc0"/>
<use href="#hn" x="496.00" y="1003.70" width="36.00" height="83.60" fill="#4e9dc0"/>
<use href="#hn" x="542.00" y="1003.70" width="36.00" height="83.60" fill="#4e9dc0"/>
<use href="#hn" x="586.60" y="1003.70" width="36.00" height="83.60" fill="#4e9dc0"/>
<use href="#hn" x="709.00" y="911.80" width="36.00" height="83.60" fill="#4e9dc0"/>
<use href="#hn" x="755.00" y="911.80" width="36.00" height="83.60" fill="#4e9dc0"/>
<use href="#hn" x="799.70" y="911.80" width="36.00" height="83.60" fill="#4e9dc0"/>
<use href="#hn" x="709.00" y="1003.70" width="36.00" height="83.60" fill="#4e9dc0"/>
<text x="932.45" y="766.2" font-size="22" font-weight="700" fill="#231f20" textLength="306.5" lengthAdjust="spacingAndGlyphs" stroke="#231f20" stroke-width="0.55" >Detect multiple waves of modern</text>
<text x="931.20" y="788" font-size="22" font-weight="700" fill="#231f20" textLength="308.0" lengthAdjust="spacingAndGlyphs" stroke="#231f20" stroke-width="0.55" >human to Neanderthal admixture</text>
<text x="1148.70" y="820.5" font-size="21" font-weight="700" fill="#231f20" textLength="46.0" lengthAdjust="spacingAndGlyphs" >Time</text>
<rect x="1125" y="815" width="12.5" height="292" fill="#d3d3d7"/>
<polygon points="1119.5,1106.2 1144.5,1106.2 1131.25,1118.8" fill="#d3d3d7"/>
<use href="#hm" x="955.00" y="797.00" width="33.75" height="91.00" fill="#f4842a"/>
<use href="#hn" x="1043.00" y="805.50" width="35.75" height="83.00" fill="#4e9dc0"/>
<use href="#hm" x="955.00" y="911.25" width="33.75" height="91.00" fill="#f4842a"/>
<use href="#hn" x="1043.00" y="920.00" width="35.75" height="83.00" fill="#4e9dc0"/>
<use href="#hm" x="955.00" y="1017.50" width="33.75" height="91.00" fill="#f4842a"/>
<use href="#hn" x="1043.00" y="1026.25" width="35.75" height="83.00" fill="#4e9dc0"/>
<text x="990.80" y="835" font-size="20" font-weight="400" fill="#2b2b2b" textLength="41.5" lengthAdjust="spacingAndGlyphs" >~5%</text>
<line x1="996" y1="843" x2="1022" y2="843" stroke="#231f20" stroke-width="2"/>
<polygon points="1036.30,843.00 1018.30,848.50 1019.80,843.00 1018.30,837.50" fill="#231f20"/>
<text x="985.00" y="948" font-size="20" font-weight="400" fill="#2b2b2b" textLength="60.5" lengthAdjust="spacingAndGlyphs" >~0.5%</text>
<line x1="996" y1="957.5" x2="1022" y2="957.5" stroke="#231f20" stroke-width="2"/>
<polygon points="1037.00,957.50 1019.00,963.00 1020.50,957.50 1019.00,952.00" fill="#231f20"/>
<text x="996.30" y="1053.75" font-size="20" font-weight="400" fill="#2b2b2b" textLength="41" lengthAdjust="spacingAndGlyphs" >~2%</text>
<line x1="1035" y1="1064.5" x2="1010" y2="1064.5" stroke="#231f20" stroke-width="2"/>
<polygon points="995.00,1064.50 1013.00,1059.00 1011.50,1064.50 1013.00,1070.00" fill="#231f20"/>
<polyline points="1078.75,843 1103.75,860 1125,860" fill="none" stroke="#6b2144" stroke-width="2" stroke-dasharray="5,3.5"/>
<line x1="1125" y1="860" x2="1137.5" y2="860" stroke="#6b2144" stroke-width="1.8"/>
<line x1="1082.5" y1="957.5" x2="1125" y2="957.5" stroke="#6b2144" stroke-width="2" stroke-dasharray="5,3.5"/>
<line x1="1125" y1="957.5" x2="1137.5" y2="957.5" stroke="#6b2144" stroke-width="1.8"/>
<polyline points="1081.25,1065 1103,1028.75 1125,1028.75" fill="none" stroke="#6b2144" stroke-width="2" stroke-dasharray="5,3.5"/>
<line x1="1125" y1="1028.75" x2="1137.5" y2="1028.75" stroke="#6b2144" stroke-width="1.8"/>
<text x="1139.20" y="865" font-size="20.5" font-weight="400" fill="#2b2b2b" textLength="74.0" lengthAdjust="spacingAndGlyphs" >~200 ka</text>
<text x="1138.70" y="963" font-size="20.5" font-weight="400" fill="#2b2b2b" textLength="72.0" lengthAdjust="spacingAndGlyphs" >~100 ka</text>
<text x="1138.70" y="1033.75" font-size="20.5" font-weight="400" fill="#2b2b2b" textLength="62.5" lengthAdjust="spacingAndGlyphs" >~50 ka</text>
</svg>
</body></html>
